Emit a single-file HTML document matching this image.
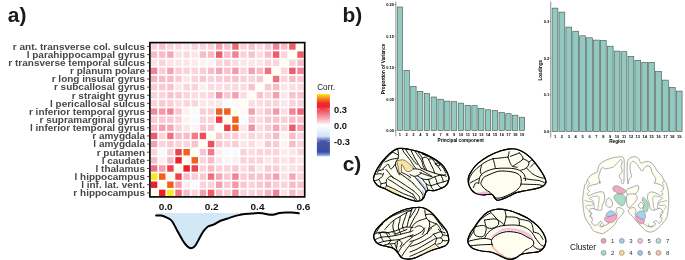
<!DOCTYPE html>
<html><head><meta charset="utf-8"><title>figure</title>
<style>
html,body{margin:0;padding:0;background:#fff}
svg{display:block;will-change:transform;opacity:0.999}
text{font-family:"Liberation Sans",sans-serif}
.rl{font-size:9.22px;font-weight:bold;fill:#474747}
.xl{font-size:9.35px;font-weight:bold;fill:#111}
.pl{font-size:20.9px;font-weight:bold;fill:#1a1a1a}
.ct{font-size:8.2px;fill:#222}
.cl{font-size:9.3px;font-weight:bold;fill:#111}
.tk{font-size:4px;font-weight:bold;fill:#000}
.at{font-size:4.7px;font-weight:bold;fill:#000}
.cg{font-size:8.2px;fill:#111}
.cn{font-size:6.1px;fill:#333}
</style></head><body>
<svg width="685" height="260" viewBox="0 0 685 260">
<rect width="685" height="260" fill="#fff"/>
<rect x="150.90" y="43.25" width="6.43" height="6.43" fill="#fbd3db"/>
<rect x="159.03" y="43.25" width="6.43" height="6.43" fill="#f9c2cd"/>
<rect x="167.17" y="43.25" width="6.43" height="6.43" fill="#fbd3db"/>
<rect x="175.30" y="43.25" width="6.43" height="6.43" fill="#fcd8df"/>
<rect x="183.43" y="43.25" width="6.43" height="6.43" fill="#fde6ea"/>
<rect x="191.56" y="43.25" width="6.43" height="6.43" fill="#fbd3db"/>
<rect x="199.70" y="43.25" width="6.43" height="6.43" fill="#fbd3db"/>
<rect x="207.83" y="43.25" width="6.43" height="6.43" fill="#fbd3db"/>
<rect x="215.96" y="43.25" width="6.43" height="6.43" fill="#f5a0b0"/>
<rect x="224.10" y="43.25" width="6.43" height="6.43" fill="#f9c2cd"/>
<rect x="232.23" y="43.25" width="6.43" height="6.43" fill="#ef6674"/>
<rect x="240.36" y="43.25" width="6.43" height="6.43" fill="#fbd3db"/>
<rect x="248.50" y="43.25" width="6.43" height="6.43" fill="#f9c2cd"/>
<rect x="256.63" y="43.25" width="6.43" height="6.43" fill="#fcd8df"/>
<rect x="264.76" y="43.25" width="6.43" height="6.43" fill="#fac8d2"/>
<rect x="272.90" y="43.25" width="6.43" height="6.43" fill="#f28394"/>
<rect x="281.03" y="43.25" width="6.43" height="6.43" fill="#f8bcc8"/>
<rect x="289.16" y="43.25" width="6.43" height="6.43" fill="#ee5c6a"/>
<rect x="297.29" y="43.25" width="6.43" height="6.43" fill="#fffff0"/>
<rect x="150.90" y="51.38" width="6.43" height="6.43" fill="#f8bcc8"/>
<rect x="159.03" y="51.38" width="6.43" height="6.43" fill="#f8bcc8"/>
<rect x="167.17" y="51.38" width="6.43" height="6.43" fill="#f6a7b6"/>
<rect x="175.30" y="51.38" width="6.43" height="6.43" fill="#fce1e6"/>
<rect x="183.43" y="51.38" width="6.43" height="6.43" fill="#fcd8df"/>
<rect x="191.56" y="51.38" width="6.43" height="6.43" fill="#fde6ea"/>
<rect x="199.70" y="51.38" width="6.43" height="6.43" fill="#f8bcc8"/>
<rect x="207.83" y="51.38" width="6.43" height="6.43" fill="#f8bcc8"/>
<rect x="215.96" y="51.38" width="6.43" height="6.43" fill="#ee5c6a"/>
<rect x="224.10" y="51.38" width="6.43" height="6.43" fill="#f8bcc8"/>
<rect x="232.23" y="51.38" width="6.43" height="6.43" fill="#f28394"/>
<rect x="240.36" y="51.38" width="6.43" height="6.43" fill="#fbd3db"/>
<rect x="248.50" y="51.38" width="6.43" height="6.43" fill="#f9c2cd"/>
<rect x="256.63" y="51.38" width="6.43" height="6.43" fill="#fcdce2"/>
<rect x="264.76" y="51.38" width="6.43" height="6.43" fill="#f8bcc8"/>
<rect x="272.90" y="51.38" width="6.43" height="6.43" fill="#ee5c6a"/>
<rect x="281.03" y="51.38" width="6.43" height="6.43" fill="#fbd3db"/>
<rect x="289.16" y="51.38" width="6.43" height="6.43" fill="#fffff0"/>
<rect x="297.29" y="51.38" width="6.43" height="6.43" fill="#ee5c6a"/>
<rect x="150.90" y="59.52" width="6.43" height="6.43" fill="#fce1e6"/>
<rect x="159.03" y="59.52" width="6.43" height="6.43" fill="#fbd3db"/>
<rect x="167.17" y="59.52" width="6.43" height="6.43" fill="#fce1e6"/>
<rect x="175.30" y="59.52" width="6.43" height="6.43" fill="#fde6ea"/>
<rect x="183.43" y="59.52" width="6.43" height="6.43" fill="#fde6ea"/>
<rect x="191.56" y="59.52" width="6.43" height="6.43" fill="#feeaee"/>
<rect x="199.70" y="59.52" width="6.43" height="6.43" fill="#fef3f4"/>
<rect x="207.83" y="59.52" width="6.43" height="6.43" fill="#fef3f4"/>
<rect x="215.96" y="59.52" width="6.43" height="6.43" fill="#fbd3db"/>
<rect x="224.10" y="59.52" width="6.43" height="6.43" fill="#facdd6"/>
<rect x="232.23" y="59.52" width="6.43" height="6.43" fill="#fcdce2"/>
<rect x="240.36" y="59.52" width="6.43" height="6.43" fill="#fde6ea"/>
<rect x="248.50" y="59.52" width="6.43" height="6.43" fill="#fde6ea"/>
<rect x="256.63" y="59.52" width="6.43" height="6.43" fill="#fde6ea"/>
<rect x="264.76" y="59.52" width="6.43" height="6.43" fill="#fbd3db"/>
<rect x="272.90" y="59.52" width="6.43" height="6.43" fill="#fbd3db"/>
<rect x="281.03" y="59.52" width="6.43" height="6.43" fill="#fffff0"/>
<rect x="289.16" y="59.52" width="6.43" height="6.43" fill="#fbd3db"/>
<rect x="297.29" y="59.52" width="6.43" height="6.43" fill="#f8bcc8"/>
<rect x="150.90" y="67.65" width="6.43" height="6.43" fill="#f28394"/>
<rect x="159.03" y="67.65" width="6.43" height="6.43" fill="#facdd6"/>
<rect x="167.17" y="67.65" width="6.43" height="6.43" fill="#f5a0b0"/>
<rect x="175.30" y="67.65" width="6.43" height="6.43" fill="#facdd6"/>
<rect x="183.43" y="67.65" width="6.43" height="6.43" fill="#fbd3db"/>
<rect x="191.56" y="67.65" width="6.43" height="6.43" fill="#fbd3db"/>
<rect x="199.70" y="67.65" width="6.43" height="6.43" fill="#facdd6"/>
<rect x="207.83" y="67.65" width="6.43" height="6.43" fill="#f8bcc8"/>
<rect x="215.96" y="67.65" width="6.43" height="6.43" fill="#f6a7b6"/>
<rect x="224.10" y="67.65" width="6.43" height="6.43" fill="#f9c2cd"/>
<rect x="232.23" y="67.65" width="6.43" height="6.43" fill="#f499a9"/>
<rect x="240.36" y="67.65" width="6.43" height="6.43" fill="#fbd3db"/>
<rect x="248.50" y="67.65" width="6.43" height="6.43" fill="#f5a0b0"/>
<rect x="256.63" y="67.65" width="6.43" height="6.43" fill="#f8bcc8"/>
<rect x="264.76" y="67.65" width="6.43" height="6.43" fill="#f0707f"/>
<rect x="272.90" y="67.65" width="6.43" height="6.43" fill="#fffff0"/>
<rect x="281.03" y="67.65" width="6.43" height="6.43" fill="#fbd3db"/>
<rect x="289.16" y="67.65" width="6.43" height="6.43" fill="#ee5c6a"/>
<rect x="297.29" y="67.65" width="6.43" height="6.43" fill="#f28394"/>
<rect x="150.90" y="75.78" width="6.43" height="6.43" fill="#f7b5c2"/>
<rect x="159.03" y="75.78" width="6.43" height="6.43" fill="#f8bcc8"/>
<rect x="167.17" y="75.78" width="6.43" height="6.43" fill="#f8bcc8"/>
<rect x="175.30" y="75.78" width="6.43" height="6.43" fill="#facdd6"/>
<rect x="183.43" y="75.78" width="6.43" height="6.43" fill="#fde6ea"/>
<rect x="191.56" y="75.78" width="6.43" height="6.43" fill="#fbd3db"/>
<rect x="199.70" y="75.78" width="6.43" height="6.43" fill="#fac8d2"/>
<rect x="207.83" y="75.78" width="6.43" height="6.43" fill="#fbd3db"/>
<rect x="215.96" y="75.78" width="6.43" height="6.43" fill="#facdd6"/>
<rect x="224.10" y="75.78" width="6.43" height="6.43" fill="#fac8d2"/>
<rect x="232.23" y="75.78" width="6.43" height="6.43" fill="#f9c2cd"/>
<rect x="240.36" y="75.78" width="6.43" height="6.43" fill="#fbd3db"/>
<rect x="248.50" y="75.78" width="6.43" height="6.43" fill="#fbd3db"/>
<rect x="256.63" y="75.78" width="6.43" height="6.43" fill="#fac8d2"/>
<rect x="264.76" y="75.78" width="6.43" height="6.43" fill="#fffff0"/>
<rect x="272.90" y="75.78" width="6.43" height="6.43" fill="#f0707f"/>
<rect x="281.03" y="75.78" width="6.43" height="6.43" fill="#fbd3db"/>
<rect x="289.16" y="75.78" width="6.43" height="6.43" fill="#f8bcc8"/>
<rect x="297.29" y="75.78" width="6.43" height="6.43" fill="#fac8d2"/>
<rect x="150.90" y="83.91" width="6.43" height="6.43" fill="#facdd6"/>
<rect x="159.03" y="83.91" width="6.43" height="6.43" fill="#fac8d2"/>
<rect x="167.17" y="83.91" width="6.43" height="6.43" fill="#f9c2cd"/>
<rect x="175.30" y="83.91" width="6.43" height="6.43" fill="#fde6ea"/>
<rect x="183.43" y="83.91" width="6.43" height="6.43" fill="#fbd3db"/>
<rect x="191.56" y="83.91" width="6.43" height="6.43" fill="#fbd3db"/>
<rect x="199.70" y="83.91" width="6.43" height="6.43" fill="#feeef1"/>
<rect x="207.83" y="83.91" width="6.43" height="6.43" fill="#fcdce2"/>
<rect x="215.96" y="83.91" width="6.43" height="6.43" fill="#fcdce2"/>
<rect x="224.10" y="83.91" width="6.43" height="6.43" fill="#fcdce2"/>
<rect x="232.23" y="83.91" width="6.43" height="6.43" fill="#fcd8df"/>
<rect x="240.36" y="83.91" width="6.43" height="6.43" fill="#fcdce2"/>
<rect x="248.50" y="83.91" width="6.43" height="6.43" fill="#f9c2cd"/>
<rect x="256.63" y="83.91" width="6.43" height="6.43" fill="#fffff0"/>
<rect x="264.76" y="83.91" width="6.43" height="6.43" fill="#fac8d2"/>
<rect x="272.90" y="83.91" width="6.43" height="6.43" fill="#f8bcc8"/>
<rect x="281.03" y="83.91" width="6.43" height="6.43" fill="#fde6ea"/>
<rect x="289.16" y="83.91" width="6.43" height="6.43" fill="#fcdce2"/>
<rect x="297.29" y="83.91" width="6.43" height="6.43" fill="#fcd8df"/>
<rect x="150.90" y="92.05" width="6.43" height="6.43" fill="#fbd3db"/>
<rect x="159.03" y="92.05" width="6.43" height="6.43" fill="#fbd3db"/>
<rect x="167.17" y="92.05" width="6.43" height="6.43" fill="#f9c2cd"/>
<rect x="175.30" y="92.05" width="6.43" height="6.43" fill="#fac8d2"/>
<rect x="183.43" y="92.05" width="6.43" height="6.43" fill="#fbd3db"/>
<rect x="191.56" y="92.05" width="6.43" height="6.43" fill="#fcdce2"/>
<rect x="199.70" y="92.05" width="6.43" height="6.43" fill="#fcdce2"/>
<rect x="207.83" y="92.05" width="6.43" height="6.43" fill="#fbd3db"/>
<rect x="215.96" y="92.05" width="6.43" height="6.43" fill="#f492a2"/>
<rect x="224.10" y="92.05" width="6.43" height="6.43" fill="#fac8d2"/>
<rect x="232.23" y="92.05" width="6.43" height="6.43" fill="#f5a0b0"/>
<rect x="240.36" y="92.05" width="6.43" height="6.43" fill="#fcdce2"/>
<rect x="248.50" y="92.05" width="6.43" height="6.43" fill="#fffff0"/>
<rect x="256.63" y="92.05" width="6.43" height="6.43" fill="#f9c2cd"/>
<rect x="264.76" y="92.05" width="6.43" height="6.43" fill="#fbd3db"/>
<rect x="272.90" y="92.05" width="6.43" height="6.43" fill="#f5a0b0"/>
<rect x="281.03" y="92.05" width="6.43" height="6.43" fill="#fde6ea"/>
<rect x="289.16" y="92.05" width="6.43" height="6.43" fill="#f9c2cd"/>
<rect x="297.29" y="92.05" width="6.43" height="6.43" fill="#f9c2cd"/>
<rect x="150.90" y="100.18" width="6.43" height="6.43" fill="#fbd3db"/>
<rect x="159.03" y="100.18" width="6.43" height="6.43" fill="#fac8d2"/>
<rect x="167.17" y="100.18" width="6.43" height="6.43" fill="#facdd6"/>
<rect x="175.30" y="100.18" width="6.43" height="6.43" fill="#fcdce2"/>
<rect x="183.43" y="100.18" width="6.43" height="6.43" fill="#fbd3db"/>
<rect x="191.56" y="100.18" width="6.43" height="6.43" fill="#fbd3db"/>
<rect x="199.70" y="100.18" width="6.43" height="6.43" fill="#fde6ea"/>
<rect x="207.83" y="100.18" width="6.43" height="6.43" fill="#fde6ea"/>
<rect x="215.96" y="100.18" width="6.43" height="6.43" fill="#fde6ea"/>
<rect x="224.10" y="100.18" width="6.43" height="6.43" fill="#f7fbff"/>
<rect x="232.23" y="100.18" width="6.43" height="6.43" fill="#fff7f8"/>
<rect x="240.36" y="100.18" width="6.43" height="6.43" fill="#fffff0"/>
<rect x="248.50" y="100.18" width="6.43" height="6.43" fill="#fcdce2"/>
<rect x="256.63" y="100.18" width="6.43" height="6.43" fill="#fcdce2"/>
<rect x="264.76" y="100.18" width="6.43" height="6.43" fill="#fbd3db"/>
<rect x="272.90" y="100.18" width="6.43" height="6.43" fill="#fbd3db"/>
<rect x="281.03" y="100.18" width="6.43" height="6.43" fill="#fde6ea"/>
<rect x="289.16" y="100.18" width="6.43" height="6.43" fill="#fbd3db"/>
<rect x="297.29" y="100.18" width="6.43" height="6.43" fill="#fbd3db"/>
<rect x="150.90" y="108.31" width="6.43" height="6.43" fill="#f38a9b"/>
<rect x="159.03" y="108.31" width="6.43" height="6.43" fill="#f499a9"/>
<rect x="167.17" y="108.31" width="6.43" height="6.43" fill="#f28394"/>
<rect x="175.30" y="108.31" width="6.43" height="6.43" fill="#fac8d2"/>
<rect x="183.43" y="108.31" width="6.43" height="6.43" fill="#feeef1"/>
<rect x="191.56" y="108.31" width="6.43" height="6.43" fill="#f7fbff"/>
<rect x="199.70" y="108.31" width="6.43" height="6.43" fill="#facdd6"/>
<rect x="207.83" y="108.31" width="6.43" height="6.43" fill="#facdd6"/>
<rect x="215.96" y="108.31" width="6.43" height="6.43" fill="#f0601e"/>
<rect x="224.10" y="108.31" width="6.43" height="6.43" fill="#f0601e"/>
<rect x="232.23" y="108.31" width="6.43" height="6.43" fill="#fffff0"/>
<rect x="240.36" y="108.31" width="6.43" height="6.43" fill="#fff7f8"/>
<rect x="248.50" y="108.31" width="6.43" height="6.43" fill="#f5a0b0"/>
<rect x="256.63" y="108.31" width="6.43" height="6.43" fill="#fcd8df"/>
<rect x="264.76" y="108.31" width="6.43" height="6.43" fill="#f9c2cd"/>
<rect x="272.90" y="108.31" width="6.43" height="6.43" fill="#f499a9"/>
<rect x="281.03" y="108.31" width="6.43" height="6.43" fill="#fcdce2"/>
<rect x="289.16" y="108.31" width="6.43" height="6.43" fill="#f28394"/>
<rect x="297.29" y="108.31" width="6.43" height="6.43" fill="#ef6674"/>
<rect x="150.90" y="116.45" width="6.43" height="6.43" fill="#facdd6"/>
<rect x="159.03" y="116.45" width="6.43" height="6.43" fill="#fac8d2"/>
<rect x="167.17" y="116.45" width="6.43" height="6.43" fill="#fac8d2"/>
<rect x="175.30" y="116.45" width="6.43" height="6.43" fill="#fbd3db"/>
<rect x="183.43" y="116.45" width="6.43" height="6.43" fill="#fef3f4"/>
<rect x="191.56" y="116.45" width="6.43" height="6.43" fill="#f7fbff"/>
<rect x="199.70" y="116.45" width="6.43" height="6.43" fill="#fbd3db"/>
<rect x="207.83" y="116.45" width="6.43" height="6.43" fill="#fbd3db"/>
<rect x="215.96" y="116.45" width="6.43" height="6.43" fill="#ed3b46"/>
<rect x="224.10" y="116.45" width="6.43" height="6.43" fill="#fffff0"/>
<rect x="232.23" y="116.45" width="6.43" height="6.43" fill="#f0601e"/>
<rect x="240.36" y="116.45" width="6.43" height="6.43" fill="#f7fbff"/>
<rect x="248.50" y="116.45" width="6.43" height="6.43" fill="#fac8d2"/>
<rect x="256.63" y="116.45" width="6.43" height="6.43" fill="#fcdce2"/>
<rect x="264.76" y="116.45" width="6.43" height="6.43" fill="#fac8d2"/>
<rect x="272.90" y="116.45" width="6.43" height="6.43" fill="#f9c2cd"/>
<rect x="281.03" y="116.45" width="6.43" height="6.43" fill="#facdd6"/>
<rect x="289.16" y="116.45" width="6.43" height="6.43" fill="#f8bcc8"/>
<rect x="297.29" y="116.45" width="6.43" height="6.43" fill="#f9c2cd"/>
<rect x="150.90" y="124.58" width="6.43" height="6.43" fill="#f8bcc8"/>
<rect x="159.03" y="124.58" width="6.43" height="6.43" fill="#f5a0b0"/>
<rect x="167.17" y="124.58" width="6.43" height="6.43" fill="#f6a7b6"/>
<rect x="175.30" y="124.58" width="6.43" height="6.43" fill="#fbd3db"/>
<rect x="183.43" y="124.58" width="6.43" height="6.43" fill="#fde6ea"/>
<rect x="191.56" y="124.58" width="6.43" height="6.43" fill="#fef3f4"/>
<rect x="199.70" y="124.58" width="6.43" height="6.43" fill="#fac8d2"/>
<rect x="207.83" y="124.58" width="6.43" height="6.43" fill="#fac8d2"/>
<rect x="215.96" y="124.58" width="6.43" height="6.43" fill="#fffff0"/>
<rect x="224.10" y="124.58" width="6.43" height="6.43" fill="#ed3b46"/>
<rect x="232.23" y="124.58" width="6.43" height="6.43" fill="#f0601e"/>
<rect x="240.36" y="124.58" width="6.43" height="6.43" fill="#fde6ea"/>
<rect x="248.50" y="124.58" width="6.43" height="6.43" fill="#f492a2"/>
<rect x="256.63" y="124.58" width="6.43" height="6.43" fill="#fcdce2"/>
<rect x="264.76" y="124.58" width="6.43" height="6.43" fill="#facdd6"/>
<rect x="272.90" y="124.58" width="6.43" height="6.43" fill="#f6a7b6"/>
<rect x="281.03" y="124.58" width="6.43" height="6.43" fill="#fbd3db"/>
<rect x="289.16" y="124.58" width="6.43" height="6.43" fill="#ee5c6a"/>
<rect x="297.29" y="124.58" width="6.43" height="6.43" fill="#f5a0b0"/>
<rect x="150.90" y="132.71" width="6.43" height="6.43" fill="#ee5c6a"/>
<rect x="159.03" y="132.71" width="6.43" height="6.43" fill="#fbd3db"/>
<rect x="167.17" y="132.71" width="6.43" height="6.43" fill="#f0707f"/>
<rect x="175.30" y="132.71" width="6.43" height="6.43" fill="#f8bcc8"/>
<rect x="183.43" y="132.71" width="6.43" height="6.43" fill="#f8bcc8"/>
<rect x="191.56" y="132.71" width="6.43" height="6.43" fill="#f1798a"/>
<rect x="199.70" y="132.71" width="6.43" height="6.43" fill="#ee4f5c"/>
<rect x="207.83" y="132.71" width="6.43" height="6.43" fill="#fffff0"/>
<rect x="215.96" y="132.71" width="6.43" height="6.43" fill="#fac8d2"/>
<rect x="224.10" y="132.71" width="6.43" height="6.43" fill="#fbd3db"/>
<rect x="232.23" y="132.71" width="6.43" height="6.43" fill="#facdd6"/>
<rect x="240.36" y="132.71" width="6.43" height="6.43" fill="#fde6ea"/>
<rect x="248.50" y="132.71" width="6.43" height="6.43" fill="#fbd3db"/>
<rect x="256.63" y="132.71" width="6.43" height="6.43" fill="#fcdce2"/>
<rect x="264.76" y="132.71" width="6.43" height="6.43" fill="#fbd3db"/>
<rect x="272.90" y="132.71" width="6.43" height="6.43" fill="#f8bcc8"/>
<rect x="281.03" y="132.71" width="6.43" height="6.43" fill="#fef3f4"/>
<rect x="289.16" y="132.71" width="6.43" height="6.43" fill="#f8bcc8"/>
<rect x="297.29" y="132.71" width="6.43" height="6.43" fill="#fbd3db"/>
<rect x="150.90" y="140.85" width="6.43" height="6.43" fill="#f5a0b0"/>
<rect x="159.03" y="140.85" width="6.43" height="6.43" fill="#fbd3db"/>
<rect x="167.17" y="140.85" width="6.43" height="6.43" fill="#fac8d2"/>
<rect x="175.30" y="140.85" width="6.43" height="6.43" fill="#fbd3db"/>
<rect x="183.43" y="140.85" width="6.43" height="6.43" fill="#fbd3db"/>
<rect x="191.56" y="140.85" width="6.43" height="6.43" fill="#f9c2cd"/>
<rect x="199.70" y="140.85" width="6.43" height="6.43" fill="#fffff0"/>
<rect x="207.83" y="140.85" width="6.43" height="6.43" fill="#ee4f5c"/>
<rect x="215.96" y="140.85" width="6.43" height="6.43" fill="#fac8d2"/>
<rect x="224.10" y="140.85" width="6.43" height="6.43" fill="#fbd3db"/>
<rect x="232.23" y="140.85" width="6.43" height="6.43" fill="#facdd6"/>
<rect x="240.36" y="140.85" width="6.43" height="6.43" fill="#fde6ea"/>
<rect x="248.50" y="140.85" width="6.43" height="6.43" fill="#fcdce2"/>
<rect x="256.63" y="140.85" width="6.43" height="6.43" fill="#feeef1"/>
<rect x="264.76" y="140.85" width="6.43" height="6.43" fill="#fac8d2"/>
<rect x="272.90" y="140.85" width="6.43" height="6.43" fill="#facdd6"/>
<rect x="281.03" y="140.85" width="6.43" height="6.43" fill="#fef3f4"/>
<rect x="289.16" y="140.85" width="6.43" height="6.43" fill="#f8bcc8"/>
<rect x="297.29" y="140.85" width="6.43" height="6.43" fill="#fbd3db"/>
<rect x="150.90" y="148.98" width="6.43" height="6.43" fill="#fbd3db"/>
<rect x="159.03" y="148.98" width="6.43" height="6.43" fill="#f7fbff"/>
<rect x="167.17" y="148.98" width="6.43" height="6.43" fill="#facdd6"/>
<rect x="175.30" y="148.98" width="6.43" height="6.43" fill="#ed424e"/>
<rect x="183.43" y="148.98" width="6.43" height="6.43" fill="#f0601e"/>
<rect x="191.56" y="148.98" width="6.43" height="6.43" fill="#fffff0"/>
<rect x="199.70" y="148.98" width="6.43" height="6.43" fill="#f9c2cd"/>
<rect x="207.83" y="148.98" width="6.43" height="6.43" fill="#f1798a"/>
<rect x="215.96" y="148.98" width="6.43" height="6.43" fill="#fef3f4"/>
<rect x="224.10" y="148.98" width="6.43" height="6.43" fill="#f7fbff"/>
<rect x="232.23" y="148.98" width="6.43" height="6.43" fill="#f7fbff"/>
<rect x="240.36" y="148.98" width="6.43" height="6.43" fill="#fbd3db"/>
<rect x="248.50" y="148.98" width="6.43" height="6.43" fill="#fcdce2"/>
<rect x="256.63" y="148.98" width="6.43" height="6.43" fill="#fbd3db"/>
<rect x="264.76" y="148.98" width="6.43" height="6.43" fill="#fbd3db"/>
<rect x="272.90" y="148.98" width="6.43" height="6.43" fill="#fbd3db"/>
<rect x="281.03" y="148.98" width="6.43" height="6.43" fill="#feeaee"/>
<rect x="289.16" y="148.98" width="6.43" height="6.43" fill="#fde6ea"/>
<rect x="297.29" y="148.98" width="6.43" height="6.43" fill="#fbd3db"/>
<rect x="150.90" y="157.11" width="6.43" height="6.43" fill="#f8bcc8"/>
<rect x="159.03" y="157.11" width="6.43" height="6.43" fill="#feeef1"/>
<rect x="167.17" y="157.11" width="6.43" height="6.43" fill="#f8bcc8"/>
<rect x="175.30" y="157.11" width="6.43" height="6.43" fill="#ec2026"/>
<rect x="183.43" y="157.11" width="6.43" height="6.43" fill="#fffff0"/>
<rect x="191.56" y="157.11" width="6.43" height="6.43" fill="#f0601e"/>
<rect x="199.70" y="157.11" width="6.43" height="6.43" fill="#fbd3db"/>
<rect x="207.83" y="157.11" width="6.43" height="6.43" fill="#f8bcc8"/>
<rect x="215.96" y="157.11" width="6.43" height="6.43" fill="#fde6ea"/>
<rect x="224.10" y="157.11" width="6.43" height="6.43" fill="#fef3f4"/>
<rect x="232.23" y="157.11" width="6.43" height="6.43" fill="#feeef1"/>
<rect x="240.36" y="157.11" width="6.43" height="6.43" fill="#fbd3db"/>
<rect x="248.50" y="157.11" width="6.43" height="6.43" fill="#fbd3db"/>
<rect x="256.63" y="157.11" width="6.43" height="6.43" fill="#fbd3db"/>
<rect x="264.76" y="157.11" width="6.43" height="6.43" fill="#fde6ea"/>
<rect x="272.90" y="157.11" width="6.43" height="6.43" fill="#fbd3db"/>
<rect x="281.03" y="157.11" width="6.43" height="6.43" fill="#fde6ea"/>
<rect x="289.16" y="157.11" width="6.43" height="6.43" fill="#fcd8df"/>
<rect x="297.29" y="157.11" width="6.43" height="6.43" fill="#fde6ea"/>
<rect x="150.90" y="165.24" width="6.43" height="6.43" fill="#f0707f"/>
<rect x="159.03" y="165.24" width="6.43" height="6.43" fill="#f5a0b0"/>
<rect x="167.17" y="165.24" width="6.43" height="6.43" fill="#ed424e"/>
<rect x="175.30" y="165.24" width="6.43" height="6.43" fill="#fffff0"/>
<rect x="183.43" y="165.24" width="6.43" height="6.43" fill="#ec2026"/>
<rect x="191.56" y="165.24" width="6.43" height="6.43" fill="#ed424e"/>
<rect x="199.70" y="165.24" width="6.43" height="6.43" fill="#fbd3db"/>
<rect x="207.83" y="165.24" width="6.43" height="6.43" fill="#f8bcc8"/>
<rect x="215.96" y="165.24" width="6.43" height="6.43" fill="#fbd3db"/>
<rect x="224.10" y="165.24" width="6.43" height="6.43" fill="#fbd3db"/>
<rect x="232.23" y="165.24" width="6.43" height="6.43" fill="#fac8d2"/>
<rect x="240.36" y="165.24" width="6.43" height="6.43" fill="#fcdce2"/>
<rect x="248.50" y="165.24" width="6.43" height="6.43" fill="#fac8d2"/>
<rect x="256.63" y="165.24" width="6.43" height="6.43" fill="#fde6ea"/>
<rect x="264.76" y="165.24" width="6.43" height="6.43" fill="#facdd6"/>
<rect x="272.90" y="165.24" width="6.43" height="6.43" fill="#facdd6"/>
<rect x="281.03" y="165.24" width="6.43" height="6.43" fill="#fde6ea"/>
<rect x="289.16" y="165.24" width="6.43" height="6.43" fill="#fce1e6"/>
<rect x="297.29" y="165.24" width="6.43" height="6.43" fill="#fcd8df"/>
<rect x="150.90" y="173.38" width="6.43" height="6.43" fill="#f7e816"/>
<rect x="159.03" y="173.38" width="6.43" height="6.43" fill="#f0601e"/>
<rect x="167.17" y="173.38" width="6.43" height="6.43" fill="#fffff0"/>
<rect x="175.30" y="173.38" width="6.43" height="6.43" fill="#ed424e"/>
<rect x="183.43" y="173.38" width="6.43" height="6.43" fill="#f8bcc8"/>
<rect x="191.56" y="173.38" width="6.43" height="6.43" fill="#facdd6"/>
<rect x="199.70" y="173.38" width="6.43" height="6.43" fill="#fac8d2"/>
<rect x="207.83" y="173.38" width="6.43" height="6.43" fill="#f0707f"/>
<rect x="215.96" y="173.38" width="6.43" height="6.43" fill="#f6a7b6"/>
<rect x="224.10" y="173.38" width="6.43" height="6.43" fill="#fac8d2"/>
<rect x="232.23" y="173.38" width="6.43" height="6.43" fill="#f28394"/>
<rect x="240.36" y="173.38" width="6.43" height="6.43" fill="#facdd6"/>
<rect x="248.50" y="173.38" width="6.43" height="6.43" fill="#f9c2cd"/>
<rect x="256.63" y="173.38" width="6.43" height="6.43" fill="#f9c2cd"/>
<rect x="264.76" y="173.38" width="6.43" height="6.43" fill="#f8bcc8"/>
<rect x="272.90" y="173.38" width="6.43" height="6.43" fill="#f5a0b0"/>
<rect x="281.03" y="173.38" width="6.43" height="6.43" fill="#fce1e6"/>
<rect x="289.16" y="173.38" width="6.43" height="6.43" fill="#f6a7b6"/>
<rect x="297.29" y="173.38" width="6.43" height="6.43" fill="#fbd3db"/>
<rect x="150.90" y="181.51" width="6.43" height="6.43" fill="#ec2026"/>
<rect x="159.03" y="181.51" width="6.43" height="6.43" fill="#fffff0"/>
<rect x="167.17" y="181.51" width="6.43" height="6.43" fill="#f0601e"/>
<rect x="175.30" y="181.51" width="6.43" height="6.43" fill="#f5a0b0"/>
<rect x="183.43" y="181.51" width="6.43" height="6.43" fill="#feeef1"/>
<rect x="191.56" y="181.51" width="6.43" height="6.43" fill="#f7fbff"/>
<rect x="199.70" y="181.51" width="6.43" height="6.43" fill="#fbd3db"/>
<rect x="207.83" y="181.51" width="6.43" height="6.43" fill="#fbd3db"/>
<rect x="215.96" y="181.51" width="6.43" height="6.43" fill="#f5a0b0"/>
<rect x="224.10" y="181.51" width="6.43" height="6.43" fill="#fac8d2"/>
<rect x="232.23" y="181.51" width="6.43" height="6.43" fill="#f499a9"/>
<rect x="240.36" y="181.51" width="6.43" height="6.43" fill="#fac8d2"/>
<rect x="248.50" y="181.51" width="6.43" height="6.43" fill="#fbd3db"/>
<rect x="256.63" y="181.51" width="6.43" height="6.43" fill="#fac8d2"/>
<rect x="264.76" y="181.51" width="6.43" height="6.43" fill="#f8bcc8"/>
<rect x="272.90" y="181.51" width="6.43" height="6.43" fill="#facdd6"/>
<rect x="281.03" y="181.51" width="6.43" height="6.43" fill="#fbd3db"/>
<rect x="289.16" y="181.51" width="6.43" height="6.43" fill="#f8bcc8"/>
<rect x="297.29" y="181.51" width="6.43" height="6.43" fill="#f9c2cd"/>
<rect x="150.90" y="189.64" width="6.43" height="6.43" fill="#fffff0"/>
<rect x="159.03" y="189.64" width="6.43" height="6.43" fill="#ec2026"/>
<rect x="167.17" y="189.64" width="6.43" height="6.43" fill="#f7e816"/>
<rect x="175.30" y="189.64" width="6.43" height="6.43" fill="#f0707f"/>
<rect x="183.43" y="189.64" width="6.43" height="6.43" fill="#f8bcc8"/>
<rect x="191.56" y="189.64" width="6.43" height="6.43" fill="#fbd3db"/>
<rect x="199.70" y="189.64" width="6.43" height="6.43" fill="#f5a0b0"/>
<rect x="207.83" y="189.64" width="6.43" height="6.43" fill="#ee5c6a"/>
<rect x="215.96" y="189.64" width="6.43" height="6.43" fill="#f8bcc8"/>
<rect x="224.10" y="189.64" width="6.43" height="6.43" fill="#facdd6"/>
<rect x="232.23" y="189.64" width="6.43" height="6.43" fill="#f38a9b"/>
<rect x="240.36" y="189.64" width="6.43" height="6.43" fill="#fbd3db"/>
<rect x="248.50" y="189.64" width="6.43" height="6.43" fill="#fbd3db"/>
<rect x="256.63" y="189.64" width="6.43" height="6.43" fill="#facdd6"/>
<rect x="264.76" y="189.64" width="6.43" height="6.43" fill="#f7b5c2"/>
<rect x="272.90" y="189.64" width="6.43" height="6.43" fill="#f28394"/>
<rect x="281.03" y="189.64" width="6.43" height="6.43" fill="#fce1e6"/>
<rect x="289.16" y="189.64" width="6.43" height="6.43" fill="#f8bcc8"/>
<rect x="297.29" y="189.64" width="6.43" height="6.43" fill="#fbd3db"/>
<rect x="149.9" y="42.6" width="154.8" height="154.3" fill="none" stroke="#000" stroke-width="1.65"/>
<path d="M147.1 46.47H149.1" stroke="#444" stroke-width="1"/>
<text transform="translate(145 49.82) scale(1.085 1)" text-anchor="end" class="rl">r ant. transverse col. sulcus</text>
<path d="M147.1 54.60H149.1" stroke="#444" stroke-width="1"/>
<text transform="translate(145 57.95) scale(1.085 1)" text-anchor="end" class="rl">l parahippocampal gyrus</text>
<path d="M147.1 62.73H149.1" stroke="#444" stroke-width="1"/>
<text transform="translate(145 66.08) scale(1.085 1)" text-anchor="end" class="rl">r transverse temporal sulcus</text>
<path d="M147.1 70.87H149.1" stroke="#444" stroke-width="1"/>
<text transform="translate(145 74.22) scale(1.085 1)" text-anchor="end" class="rl">r planum polare</text>
<path d="M147.1 79.00H149.1" stroke="#444" stroke-width="1"/>
<text transform="translate(145 82.35) scale(1.085 1)" text-anchor="end" class="rl">r long insular gyrus</text>
<path d="M147.1 87.13H149.1" stroke="#444" stroke-width="1"/>
<text transform="translate(145 90.48) scale(1.085 1)" text-anchor="end" class="rl">r subcallosal gyrus</text>
<path d="M147.1 95.26H149.1" stroke="#444" stroke-width="1"/>
<text transform="translate(145 98.61) scale(1.085 1)" text-anchor="end" class="rl">r straight gyrus</text>
<path d="M147.1 103.40H149.1" stroke="#444" stroke-width="1"/>
<text transform="translate(145 106.75) scale(1.085 1)" text-anchor="end" class="rl">l pericallosal sulcus</text>
<path d="M147.1 111.53H149.1" stroke="#444" stroke-width="1"/>
<text transform="translate(145 114.88) scale(1.085 1)" text-anchor="end" class="rl">r inferior temporal gyrus</text>
<path d="M147.1 119.66H149.1" stroke="#444" stroke-width="1"/>
<text transform="translate(145 123.01) scale(1.085 1)" text-anchor="end" class="rl">r supramarginal gyrus</text>
<path d="M147.1 127.80H149.1" stroke="#444" stroke-width="1"/>
<text transform="translate(145 131.15) scale(1.085 1)" text-anchor="end" class="rl">l inferior temporal gyrus</text>
<path d="M147.1 135.93H149.1" stroke="#444" stroke-width="1"/>
<text transform="translate(145 139.28) scale(1.085 1)" text-anchor="end" class="rl">r amygdala</text>
<path d="M147.1 144.06H149.1" stroke="#444" stroke-width="1"/>
<text transform="translate(145 147.41) scale(1.085 1)" text-anchor="end" class="rl">l amygdala</text>
<path d="M147.1 152.20H149.1" stroke="#444" stroke-width="1"/>
<text transform="translate(145 155.55) scale(1.085 1)" text-anchor="end" class="rl">r putamen</text>
<path d="M147.1 160.33H149.1" stroke="#444" stroke-width="1"/>
<text transform="translate(145 163.68) scale(1.085 1)" text-anchor="end" class="rl">l caudate</text>
<path d="M147.1 168.46H149.1" stroke="#444" stroke-width="1"/>
<text transform="translate(145 171.81) scale(1.085 1)" text-anchor="end" class="rl">l thalamus</text>
<path d="M147.1 176.59H149.1" stroke="#444" stroke-width="1"/>
<text transform="translate(145 179.94) scale(1.085 1)" text-anchor="end" class="rl">l hippocampus</text>
<path d="M147.1 184.73H149.1" stroke="#444" stroke-width="1"/>
<text transform="translate(145 188.08) scale(1.085 1)" text-anchor="end" class="rl">l inf. lat. vent.</text>
<path d="M147.1 192.86H149.1" stroke="#444" stroke-width="1"/>
<text transform="translate(145 196.21) scale(1.085 1)" text-anchor="end" class="rl">r hippocampus</text>
<text transform="translate(165.7 209.8) scale(1.07 1)" text-anchor="middle" class="xl">0.0</text>
<text transform="translate(211.6 209.8) scale(1.07 1)" text-anchor="middle" class="xl">0.2</text>
<text transform="translate(257.5 209.8) scale(1.07 1)" text-anchor="middle" class="xl">0.4</text>
<text transform="translate(303.4 209.8) scale(1.07 1)" text-anchor="middle" class="xl">0.6</text>
<path d="M156.1 215.5C156.9 215.5 159.3 215.2 161.0 215.5C162.7 215.8 164.6 216.4 166.4 217.3C168.2 218.2 170.1 218.7 171.9 221.0C173.7 223.3 175.6 227.6 177.4 230.9C179.2 234.2 181.3 238.1 182.9 240.7C184.5 243.2 185.8 244.9 187.2 246.2C188.5 247.4 189.7 248.2 191.0 248.2C192.3 248.2 193.5 247.8 194.9 246.2C196.3 244.6 197.8 241.1 199.3 238.5C200.8 235.9 202.2 232.9 203.7 230.9C205.1 228.9 206.4 227.5 208.0 226.5C209.6 225.5 211.5 225.6 213.5 224.7C215.5 223.8 217.9 222.0 220.1 221.0C222.3 220.0 224.6 219.5 226.7 218.8C228.8 218.1 230.2 217.6 232.4 216.9C234.6 216.2 237.8 215.4 239.9 214.9C242.0 214.4 242.8 214.1 244.9 213.9C247.0 213.7 250.0 213.7 252.3 213.5C254.6 213.3 256.6 212.9 258.5 212.9C260.4 212.9 261.6 213.2 263.5 213.5C265.4 213.8 267.8 214.5 269.7 214.7C271.6 214.8 273.0 214.7 274.6 214.4C276.2 214.1 277.7 213.4 279.6 213.1C281.5 212.8 283.7 212.6 285.8 212.5C287.9 212.4 289.8 212.5 292.0 212.6C294.2 212.7 297.7 213.2 298.8 213.3L298.8 212.9L156.1 212.9Z" fill="#d3e8f7"/>
<path d="M156.1 215.5C156.9 215.5 159.3 215.2 161.0 215.5C162.7 215.8 164.6 216.4 166.4 217.3C168.2 218.2 170.1 218.7 171.9 221.0C173.7 223.3 175.6 227.6 177.4 230.9C179.2 234.2 181.3 238.1 182.9 240.7C184.5 243.2 185.8 244.9 187.2 246.2C188.5 247.4 189.7 248.2 191.0 248.2C192.3 248.2 193.5 247.8 194.9 246.2C196.3 244.6 197.8 241.1 199.3 238.5C200.8 235.9 202.2 232.9 203.7 230.9C205.1 228.9 206.4 227.5 208.0 226.5C209.6 225.5 211.5 225.6 213.5 224.7C215.5 223.8 217.9 222.0 220.1 221.0C222.3 220.0 224.6 219.5 226.7 218.8C228.8 218.1 230.2 217.6 232.4 216.9C234.6 216.2 237.8 215.4 239.9 214.9C242.0 214.4 242.8 214.1 244.9 213.9C247.0 213.7 250.0 213.7 252.3 213.5C254.6 213.3 256.6 212.9 258.5 212.9C260.4 212.9 261.6 213.2 263.5 213.5C265.4 213.8 267.8 214.5 269.7 214.7C271.6 214.8 273.0 214.7 274.6 214.4C276.2 214.1 277.7 213.4 279.6 213.1C281.5 212.8 283.7 212.6 285.8 212.5C287.9 212.4 289.8 212.5 292.0 212.6C294.2 212.7 297.7 213.2 298.8 213.3" fill="none" stroke="#000" stroke-width="2" stroke-linecap="round" stroke-linejoin="round"/>
<defs><linearGradient id="cb" x1="0" y1="0" x2="0" y2="1">
<stop offset="0.000" stop-color="#ffe812"/>
<stop offset="0.070" stop-color="#f58a1e"/>
<stop offset="0.150" stop-color="#ee2a24"/>
<stop offset="0.200" stop-color="#ee2430"/>
<stop offset="0.245" stop-color="#ee4552"/>
<stop offset="0.380" stop-color="#f6a0ac"/>
<stop offset="0.500" stop-color="#ffffff"/>
<stop offset="0.600" stop-color="#e6f1fb"/>
<stop offset="0.680" stop-color="#cfe2f6"/>
<stop offset="0.720" stop-color="#8a98cf"/>
<stop offset="0.760" stop-color="#4557a8"/>
<stop offset="0.930" stop-color="#3a4da4"/>
<stop offset="0.970" stop-color="#6f8fd0"/>
<stop offset="1.000" stop-color="#a9d2f3"/>
</linearGradient></defs>
<rect x="316.9" y="94" width="13" height="62.3" fill="url(#cb)"/>
<path d="M316.9 109.1h2.6M327.3 109.1h2.6" stroke="#fff" stroke-width="0.5" opacity="0.8"/>
<path d="M316.9 125.1h2.6M327.3 125.1h2.6" stroke="#fff" stroke-width="0.5" opacity="0.8"/>
<path d="M316.9 141.3h2.6M327.3 141.3h2.6" stroke="#fff" stroke-width="0.5" opacity="0.8"/>
<text x="317.2" y="90" class="ct">Corr.</text>
<text x="334" y="112.6" class="cl">0.3</text>
<text x="334" y="128.6" class="cl">0.0</text>
<text x="334" y="145.0" class="cl">-0.3</text>
<text x="7.8" y="22.2" class="pl">a)</text>
<text x="342.4" y="22.2" class="pl">b)</text>
<text x="342.7" y="170.5" class="pl">c)</text>
<rect x="397.20" y="7.00" width="5.35" height="123.40" fill="#92c9c0" stroke="#45524f" stroke-width="0.6"/>
<rect x="403.99" y="70.30" width="5.35" height="60.10" fill="#92c9c0" stroke="#45524f" stroke-width="0.6"/>
<rect x="410.77" y="86.30" width="5.35" height="44.10" fill="#92c9c0" stroke="#45524f" stroke-width="0.6"/>
<rect x="417.56" y="91.40" width="5.35" height="39.00" fill="#92c9c0" stroke="#45524f" stroke-width="0.6"/>
<rect x="424.34" y="93.50" width="5.35" height="36.90" fill="#92c9c0" stroke="#45524f" stroke-width="0.6"/>
<rect x="431.12" y="97.00" width="5.35" height="33.40" fill="#92c9c0" stroke="#45524f" stroke-width="0.6"/>
<rect x="437.91" y="99.20" width="5.35" height="31.20" fill="#92c9c0" stroke="#45524f" stroke-width="0.6"/>
<rect x="444.69" y="101.10" width="5.35" height="29.30" fill="#92c9c0" stroke="#45524f" stroke-width="0.6"/>
<rect x="451.48" y="101.70" width="5.35" height="28.70" fill="#92c9c0" stroke="#45524f" stroke-width="0.6"/>
<rect x="458.26" y="103.10" width="5.35" height="27.30" fill="#92c9c0" stroke="#45524f" stroke-width="0.6"/>
<rect x="465.05" y="105.40" width="5.35" height="25.00" fill="#92c9c0" stroke="#45524f" stroke-width="0.6"/>
<rect x="471.83" y="105.70" width="5.35" height="24.70" fill="#92c9c0" stroke="#45524f" stroke-width="0.6"/>
<rect x="478.62" y="108.30" width="5.35" height="22.10" fill="#92c9c0" stroke="#45524f" stroke-width="0.6"/>
<rect x="485.40" y="109.80" width="5.35" height="20.60" fill="#92c9c0" stroke="#45524f" stroke-width="0.6"/>
<rect x="492.19" y="110.50" width="5.35" height="19.90" fill="#92c9c0" stroke="#45524f" stroke-width="0.6"/>
<rect x="498.98" y="112.50" width="5.35" height="17.90" fill="#92c9c0" stroke="#45524f" stroke-width="0.6"/>
<rect x="505.76" y="113.70" width="5.35" height="16.70" fill="#92c9c0" stroke="#45524f" stroke-width="0.6"/>
<rect x="512.54" y="115.20" width="5.35" height="15.20" fill="#92c9c0" stroke="#45524f" stroke-width="0.6"/>
<rect x="519.33" y="117.20" width="5.35" height="13.20" fill="#92c9c0" stroke="#45524f" stroke-width="0.6"/>
<path d="M395.8 1.5V136.3" stroke="#a0a0a0" stroke-width="1.15"/>
<text x="399.90" y="136" text-anchor="middle" class="tk">1</text>
<text x="406.69" y="136" text-anchor="middle" class="tk">2</text>
<text x="413.47" y="136" text-anchor="middle" class="tk">3</text>
<text x="420.25" y="136" text-anchor="middle" class="tk">4</text>
<text x="427.04" y="136" text-anchor="middle" class="tk">5</text>
<text x="433.82" y="136" text-anchor="middle" class="tk">6</text>
<text x="440.61" y="136" text-anchor="middle" class="tk">7</text>
<text x="447.39" y="136" text-anchor="middle" class="tk">8</text>
<text x="454.18" y="136" text-anchor="middle" class="tk">9</text>
<text x="460.96" y="136" text-anchor="middle" class="tk">10</text>
<text x="467.75" y="136" text-anchor="middle" class="tk">11</text>
<text x="474.53" y="136" text-anchor="middle" class="tk">12</text>
<text x="481.32" y="136" text-anchor="middle" class="tk">13</text>
<text x="488.10" y="136" text-anchor="middle" class="tk">14</text>
<text x="494.89" y="136" text-anchor="middle" class="tk">15</text>
<text x="501.68" y="136" text-anchor="middle" class="tk">16</text>
<text x="508.46" y="136" text-anchor="middle" class="tk">17</text>
<text x="515.25" y="136" text-anchor="middle" class="tk">18</text>
<text x="522.03" y="136" text-anchor="middle" class="tk">19</text>
<text x="394" y="6.40" text-anchor="end" class="tk">0.20</text>
<path d="M394.6 4.60H395.8" stroke="#333" stroke-width="0.5"/>
<text x="394" y="37.90" text-anchor="end" class="tk">0.15</text>
<path d="M394.6 36.10H395.8" stroke="#333" stroke-width="0.5"/>
<text x="394" y="69.35" text-anchor="end" class="tk">0.10</text>
<path d="M394.6 67.55H395.8" stroke="#333" stroke-width="0.5"/>
<text x="394" y="100.80" text-anchor="end" class="tk">0.05</text>
<path d="M394.6 99.00H395.8" stroke="#333" stroke-width="0.5"/>
<text x="394" y="132.30" text-anchor="end" class="tk">0.00</text>
<path d="M394.6 130.50H395.8" stroke="#333" stroke-width="0.5"/>
<text x="460.7" y="141.7" text-anchor="middle" class="at">Principal component</text>
<text transform="translate(384.6 69) rotate(-90)" text-anchor="middle" class="at">Proportion of Variance</text>
<rect x="552.10" y="8.10" width="5.80" height="123.40" fill="#92c9c0" stroke="#45524f" stroke-width="0.6"/>
<rect x="559.00" y="12.10" width="5.80" height="119.40" fill="#92c9c0" stroke="#45524f" stroke-width="0.6"/>
<rect x="565.90" y="27.10" width="5.80" height="104.40" fill="#92c9c0" stroke="#45524f" stroke-width="0.6"/>
<rect x="572.80" y="31.20" width="5.80" height="100.30" fill="#92c9c0" stroke="#45524f" stroke-width="0.6"/>
<rect x="579.70" y="35.80" width="5.80" height="95.70" fill="#92c9c0" stroke="#45524f" stroke-width="0.6"/>
<rect x="586.60" y="37.80" width="5.80" height="93.70" fill="#92c9c0" stroke="#45524f" stroke-width="0.6"/>
<rect x="593.50" y="40.10" width="5.80" height="91.40" fill="#92c9c0" stroke="#45524f" stroke-width="0.6"/>
<rect x="600.40" y="40.40" width="5.80" height="91.10" fill="#92c9c0" stroke="#45524f" stroke-width="0.6"/>
<rect x="607.30" y="46.20" width="5.80" height="85.30" fill="#92c9c0" stroke="#45524f" stroke-width="0.6"/>
<rect x="614.20" y="51.10" width="5.80" height="80.40" fill="#92c9c0" stroke="#45524f" stroke-width="0.6"/>
<rect x="621.10" y="51.70" width="5.80" height="79.80" fill="#92c9c0" stroke="#45524f" stroke-width="0.6"/>
<rect x="628.00" y="56.30" width="5.80" height="75.20" fill="#92c9c0" stroke="#45524f" stroke-width="0.6"/>
<rect x="634.90" y="60.30" width="5.80" height="71.20" fill="#92c9c0" stroke="#45524f" stroke-width="0.6"/>
<rect x="641.80" y="62.30" width="5.80" height="69.20" fill="#92c9c0" stroke="#45524f" stroke-width="0.6"/>
<rect x="648.70" y="62.30" width="5.80" height="69.20" fill="#92c9c0" stroke="#45524f" stroke-width="0.6"/>
<rect x="655.60" y="71.40" width="5.80" height="60.10" fill="#92c9c0" stroke="#45524f" stroke-width="0.6"/>
<rect x="662.50" y="80.10" width="5.80" height="51.40" fill="#92c9c0" stroke="#45524f" stroke-width="0.6"/>
<rect x="669.40" y="87.30" width="5.80" height="44.20" fill="#92c9c0" stroke="#45524f" stroke-width="0.6"/>
<rect x="676.30" y="91.10" width="5.80" height="40.40" fill="#92c9c0" stroke="#45524f" stroke-width="0.6"/>
<path d="M550.7 1.5V137.5" stroke="#a0a0a0" stroke-width="1.15"/>
<text x="555.00" y="137.5" text-anchor="middle" class="tk">1</text>
<text x="561.90" y="137.5" text-anchor="middle" class="tk">2</text>
<text x="568.80" y="137.5" text-anchor="middle" class="tk">3</text>
<text x="575.70" y="137.5" text-anchor="middle" class="tk">4</text>
<text x="582.60" y="137.5" text-anchor="middle" class="tk">5</text>
<text x="589.50" y="137.5" text-anchor="middle" class="tk">6</text>
<text x="596.40" y="137.5" text-anchor="middle" class="tk">7</text>
<text x="603.30" y="137.5" text-anchor="middle" class="tk">8</text>
<text x="610.20" y="137.5" text-anchor="middle" class="tk">9</text>
<text x="617.10" y="137.5" text-anchor="middle" class="tk">10</text>
<text x="624.00" y="137.5" text-anchor="middle" class="tk">11</text>
<text x="630.90" y="137.5" text-anchor="middle" class="tk">12</text>
<text x="637.80" y="137.5" text-anchor="middle" class="tk">13</text>
<text x="644.70" y="137.5" text-anchor="middle" class="tk">14</text>
<text x="651.60" y="137.5" text-anchor="middle" class="tk">15</text>
<text x="658.50" y="137.5" text-anchor="middle" class="tk">16</text>
<text x="665.40" y="137.5" text-anchor="middle" class="tk">17</text>
<text x="672.30" y="137.5" text-anchor="middle" class="tk">18</text>
<text x="679.20" y="137.5" text-anchor="middle" class="tk">19</text>
<text x="549.2" y="22.80" text-anchor="end" class="tk">0.3</text>
<path d="M549.6 21.40H550.7" stroke="#333" stroke-width="0.5"/>
<text x="549.2" y="59.50" text-anchor="end" class="tk">0.2</text>
<path d="M549.6 58.10H550.7" stroke="#333" stroke-width="0.5"/>
<text x="549.2" y="96.20" text-anchor="end" class="tk">0.1</text>
<path d="M549.6 94.80H550.7" stroke="#333" stroke-width="0.5"/>
<text x="549.2" y="132.90" text-anchor="end" class="tk">0.0</text>
<path d="M549.6 131.50H550.7" stroke="#333" stroke-width="0.5"/>
<text x="617.1" y="143.3" text-anchor="middle" class="at">Region</text>
<text transform="translate(542.2 70.2) rotate(-90)" text-anchor="middle" class="at">Loadings</text>
<text x="570" y="249.9" class="cg">Cluster</text>
<circle cx="603.6" cy="240.9" r="2.45" fill="#f59cb6" stroke="#777" stroke-width="0.6"/>
<text x="612.8" y="243.1" text-anchor="middle" class="cn">1</text>
<circle cx="621.8" cy="240.9" r="2.45" fill="#9fcdf2" stroke="#777" stroke-width="0.6"/>
<text x="631.0" y="243.1" text-anchor="middle" class="cn">3</text>
<circle cx="640.1" cy="240.9" r="2.45" fill="#f8c2dc" stroke="#777" stroke-width="0.6"/>
<text x="649.3" y="243.1" text-anchor="middle" class="cn">5</text>
<circle cx="658.4" cy="240.9" r="2.45" fill="#b4ddd0" stroke="#777" stroke-width="0.6"/>
<text x="667.6" y="243.1" text-anchor="middle" class="cn">7</text>
<circle cx="603.6" cy="252.9" r="2.45" fill="#a8dcc6" stroke="#777" stroke-width="0.6"/>
<text x="612.8" y="255.1" text-anchor="middle" class="cn">2</text>
<circle cx="621.8" cy="252.9" r="2.45" fill="#fade8e" stroke="#777" stroke-width="0.6"/>
<text x="631.0" y="255.1" text-anchor="middle" class="cn">4</text>
<circle cx="640.1" cy="252.9" r="2.45" fill="#a2c2ef" stroke="#777" stroke-width="0.6"/>
<text x="649.3" y="255.1" text-anchor="middle" class="cn">6</text>
<circle cx="658.4" cy="252.9" r="2.45" fill="#f8c4a2" stroke="#777" stroke-width="0.6"/>
<text x="667.6" y="255.1" text-anchor="middle" class="cn">8</text>
<path d="M373.7 177.0C374.0 175.8 374.6 174.1 375.6 172.0C376.6 169.9 378.1 167.1 379.9 164.6C381.6 162.1 384.0 159.4 386.1 157.2C388.2 155.0 390.1 153.1 392.3 151.6C394.5 150.1 396.1 148.7 399.2 148.4C402.3 148.1 406.9 148.9 410.9 149.7C414.9 150.5 419.4 151.8 423.3 153.4C427.2 155.0 431.4 157.1 434.5 159.0C437.6 160.9 440.0 162.6 442.0 164.6C444.0 166.6 445.2 168.7 446.3 170.8C447.4 172.9 448.4 175.5 448.8 177.0C449.2 178.5 449.1 178.6 448.8 179.8C448.5 181.0 448.0 183.0 446.9 184.4C445.8 185.8 444.1 187.1 442.0 188.1C439.9 189.1 436.8 190.2 434.5 190.6C432.2 191.0 429.5 190.0 428.0 190.4C426.5 190.8 426.1 191.9 425.4 193.1C424.7 194.3 424.8 196.2 424.0 197.4C423.2 198.6 422.2 199.9 420.9 200.5C419.5 201.1 417.8 201.4 415.9 201.2C414.0 201.0 412.2 200.3 409.7 199.5C407.2 198.7 403.9 197.4 401.0 196.2C398.1 195.0 395.0 193.8 392.3 192.5C389.6 191.2 387.2 189.7 384.9 188.7C382.6 187.7 380.3 187.3 378.7 186.3C377.1 185.3 375.9 183.6 375.0 182.5C374.1 181.4 373.8 180.4 373.6 179.5C373.4 178.6 373.4 178.2 373.7 177.0Z" fill="#fefef0" stroke="#000" stroke-width="1.15" stroke-linejoin="round"/>
<path d="M397.5 160.6C398.6 160.2 401.9 159.7 403.5 159.9C405.1 160.2 405.8 161.0 407.2 162.1C408.6 163.2 411.2 165.3 412.2 166.5C413.2 167.7 413.8 168.2 413.4 169.0C413.0 169.8 410.9 171.1 409.7 171.4C408.5 171.7 407.1 171.7 406.0 170.8C404.9 169.9 403.6 166.9 402.9 165.9C402.2 164.9 401.9 163.7 401.6 164.8C401.3 165.9 401.7 171.4 401.3 172.7C400.9 174.0 399.8 173.8 399.2 172.7C398.6 171.6 398.3 167.7 397.9 165.9C397.5 164.1 397.1 163.0 397.0 162.1C396.9 161.2 396.4 161.0 397.5 160.6Z" fill="#fbe3a6" stroke="#000" stroke-width="0.5" stroke-linejoin="round"/>
<path d="M386.1 186.6C387.2 186.8 390.2 188.4 392.3 189.4C394.4 190.3 397.8 191.7 398.8 192.5C399.7 193.2 399.2 194.0 398.0 193.8C396.9 193.7 393.7 192.3 391.7 191.4C389.7 190.4 386.8 189.0 385.9 188.3C385.0 187.5 385.1 186.5 386.1 186.6Z" fill="#fbe3a6" stroke="none" stroke-width="0" stroke-linejoin="round"/>
<path d="M416.8 179.4C415.7 177.7 417.2 177.5 418.6 178.8C420.1 180.0 424.1 185.0 425.4 186.8C426.7 188.5 426.7 188.9 426.6 189.2C426.5 189.5 426.4 190.3 424.8 188.6C423.1 187.0 417.8 181.0 416.8 179.4Z" fill="#a9c6ea" stroke="none" stroke-width="0" stroke-linejoin="round"/>
<path d="M422.1 190.5C422.0 189.7 422.6 189.5 423.1 190.2C423.5 190.9 424.4 194.0 424.5 194.8C424.6 195.6 424.0 195.6 423.5 194.9C423.1 194.2 422.2 191.3 422.1 190.5Z" fill="#a9c6ea" stroke="none" stroke-width="0" stroke-linejoin="round"/>
<path d="M408.2 177.2C408.1 176.6 409.0 176.5 409.5 177.0C409.9 177.5 410.9 179.6 410.9 180.2C411.0 180.8 410.4 180.9 410.0 180.4C409.5 179.9 408.3 177.8 408.2 177.2Z" fill="#b4ddd0" stroke="none" stroke-width="0" stroke-linejoin="round"/>
<clipPath id="bc1"><path d="M373.7 177.0C374.0 175.8 374.6 174.1 375.6 172.0C376.6 169.9 378.1 167.1 379.9 164.6C381.6 162.1 384.0 159.4 386.1 157.2C388.2 155.0 390.1 153.1 392.3 151.6C394.5 150.1 396.1 148.7 399.2 148.4C402.3 148.1 406.9 148.9 410.9 149.7C414.9 150.5 419.4 151.8 423.3 153.4C427.2 155.0 431.4 157.1 434.5 159.0C437.6 160.9 440.0 162.6 442.0 164.6C444.0 166.6 445.2 168.7 446.3 170.8C447.4 172.9 448.4 175.5 448.8 177.0C449.2 178.5 449.1 178.6 448.8 179.8C448.5 181.0 448.0 183.0 446.9 184.4C445.8 185.8 444.1 187.1 442.0 188.1C439.9 189.1 436.8 190.2 434.5 190.6C432.2 191.0 429.5 190.0 428.0 190.4C426.5 190.8 426.1 191.9 425.4 193.1C424.7 194.3 424.8 196.2 424.0 197.4C423.2 198.6 422.2 199.9 420.9 200.5C419.5 201.1 417.8 201.4 415.9 201.2C414.0 201.0 412.2 200.3 409.7 199.5C407.2 198.7 403.9 197.4 401.0 196.2C398.1 195.0 395.0 193.8 392.3 192.5C389.6 191.2 387.2 189.7 384.9 188.7C382.6 187.7 380.3 187.3 378.7 186.3C377.1 185.3 375.9 183.6 375.0 182.5C374.1 181.4 373.8 180.4 373.6 179.5C373.4 178.6 373.4 178.2 373.7 177.0Z"/></clipPath>
<path d="M377.4 172.5C378.2 170.9 380.5 166.0 382.3 163.2C384.2 160.5 386.7 157.7 388.5 155.9C390.2 154.0 392.1 152.8 392.8 152.2M392.8 152.2C393.6 152.6 396.9 154.2 397.7 154.6M397.7 149.1C397.9 150.0 398.5 153.1 398.6 154.6C398.6 156.2 398.2 157.7 398.1 158.3M398.1 158.3C397.8 158.7 396.9 159.8 396.5 160.8C396.0 161.8 395.2 163.2 395.2 164.5C395.2 165.7 396.1 166.9 396.5 168.2C396.9 169.4 397.2 170.7 397.7 171.9C398.2 173.0 399.2 174.4 399.6 174.9M382.9 168.8C383.5 168.2 385.7 165.8 386.6 165.1C387.5 164.4 388.0 164.1 388.5 164.5C389.0 164.9 389.2 166.8 389.7 167.6C390.2 168.3 390.7 169.2 391.6 168.8C392.4 168.4 393.9 165.8 394.6 165.1C395.3 164.4 395.7 164.6 395.9 164.5M384.8 162.0C385.8 161.6 388.8 160.2 390.9 159.5C393.0 158.9 396.3 158.5 397.3 158.3M375.5 174.3C376.3 174.2 378.7 173.7 379.9 173.7C381.0 173.7 381.9 174.2 382.3 174.3M379.2 170.6C380.0 170.4 382.8 169.6 383.5 169.4M386.0 169.4C386.4 169.9 387.5 171.3 388.5 172.5C389.4 173.6 390.7 175.4 391.6 176.2C392.4 177.0 393.1 177.2 393.4 177.4M402.3 148.7C402.5 149.3 403.1 151.0 403.9 152.2C404.6 153.3 405.8 154.4 406.9 155.9C408.1 157.3 409.5 159.1 410.6 160.8C411.8 162.4 412.9 164.5 413.7 165.7C414.6 166.9 415.5 167.8 415.8 168.2M405.5 149.1C405.9 149.8 407.1 151.8 408.2 153.4C409.2 154.9 410.7 156.8 411.9 158.3C413.0 159.9 414.0 161.6 415.0 162.6C415.9 163.7 417.0 164.2 417.4 164.5M413.1 168.8C414.1 168.9 417.2 168.8 419.3 169.4C421.3 170.0 423.4 171.3 425.4 172.5C427.5 173.6 430.6 175.6 431.6 176.2M402.0 172.5C402.8 172.9 405.5 174.1 406.9 174.9C408.4 175.8 410.0 177.0 410.6 177.4M411.2 150.9C411.8 152.2 413.7 156.1 414.9 158.3C416.2 160.6 417.6 162.8 418.6 164.5C419.6 166.1 420.7 167.6 421.1 168.2M414.3 150.3C414.8 151.0 416.2 152.9 417.4 154.6C418.6 156.4 420.8 158.9 421.7 160.8C422.6 162.6 422.4 164.3 422.9 165.7C423.4 167.1 424.5 168.8 424.8 169.4M417.4 151.5C417.9 152.2 419.6 154.1 420.5 155.2C421.3 156.4 422.0 157.8 422.3 158.3M422.3 158.3C422.5 159.1 423.0 161.7 423.5 163.2C424.1 164.8 424.8 166.3 425.4 167.6C426.0 168.8 426.9 170.1 427.2 170.6M422.3 158.3C422.9 158.1 425.0 156.9 426.0 157.1C427.0 157.3 427.7 158.3 428.5 159.5C429.3 160.8 430.1 162.8 430.9 164.5C431.8 166.1 432.8 168.0 433.4 169.4C434.0 170.8 434.4 172.5 434.6 173.1M428.5 159.5C429.0 159.4 430.5 158.5 431.6 158.9C432.6 159.3 433.5 160.7 434.6 162.0C435.8 163.3 437.3 165.5 438.3 166.9C439.4 168.4 440.4 170.0 440.8 170.6M421.1 168.2C422.1 168.6 425.0 169.8 427.2 170.6C429.5 171.5 432.4 172.4 434.6 173.1C436.9 173.8 438.9 174.6 440.8 174.9C442.6 175.2 444.9 174.9 445.7 174.9M419.9 172.5C420.9 172.9 424.0 174.2 426.0 174.9C428.1 175.7 431.1 176.5 432.2 176.8M422.3 154.0C424.0 154.7 429.5 156.9 432.2 158.3C434.8 159.8 436.5 161.0 438.3 162.6C440.2 164.3 442.0 166.4 443.3 168.2C444.5 169.9 445.3 172.3 445.7 173.1M435.2 163.9C435.7 163.8 436.9 163.0 437.7 163.2C438.5 163.4 440.2 164.7 440.2 165.1C440.2 165.5 438.5 165.9 437.7 165.7C436.9 165.5 435.7 164.2 435.2 163.9M373.7 181.2C374.5 180.9 377.2 180.2 378.6 179.4C380.1 178.6 381.5 177.3 382.3 176.3C383.1 175.3 383.3 173.7 383.5 173.2M378.6 179.4C379.0 180.1 380.9 182.6 381.1 183.7C381.3 184.8 380.1 185.8 379.9 186.2M381.1 183.7C381.9 183.5 385.1 183.2 386.0 182.5C386.9 181.7 385.9 180.4 386.6 179.4C387.3 178.4 389.3 176.6 390.3 176.3C391.3 176.0 392.4 177.3 392.8 177.5M386.0 182.5C386.1 183.0 386.7 184.7 386.6 185.5C386.5 186.4 385.6 187.1 385.4 187.4M386.6 185.5C388.0 186.2 391.9 187.9 394.6 189.2C397.4 190.6 400.2 192.2 403.3 193.6C406.3 194.9 411.4 196.6 413.0 197.2M388.5 179.4C389.5 180.0 392.4 181.6 394.6 183.1C396.9 184.5 399.0 186.2 402.0 188.0C405.1 189.9 411.2 193.1 413.0 194.2M392.8 177.5C393.7 178.1 396.2 179.3 398.3 180.6C400.5 182.0 403.3 183.9 405.7 185.5C408.2 187.2 411.8 189.7 413.0 190.5M399.6 173.2C400.6 173.9 403.5 175.9 405.7 177.5C408.0 179.2 411.8 182.2 413.0 183.1M413.0 183.1C413.3 183.5 413.8 184.3 414.9 185.5C416.1 186.8 418.5 188.8 419.9 190.5C421.2 192.1 422.5 194.1 422.9 195.4C423.3 196.7 422.4 198.0 422.3 198.5M413.0 190.5C413.4 190.8 414.5 191.7 415.5 192.7C416.6 193.7 418.5 195.4 419.2 196.6C420.0 197.9 419.7 199.7 419.9 200.3M413.0 194.2C413.3 194.7 414.2 196.1 414.9 197.2C415.7 198.4 417.0 200.3 417.4 200.9M413.0 197.2C413.3 197.8 414.7 199.4 415.2 200.3C415.7 201.2 415.8 202.4 415.9 202.8M414.9 176.9C415.7 178.0 418.2 181.0 419.9 183.1C421.5 185.1 423.8 187.7 424.8 189.2C425.8 190.8 425.8 191.8 426.0 192.3M417.4 175.7C418.2 176.2 420.5 178.2 422.3 178.8C424.2 179.4 426.4 179.7 428.5 179.4C430.5 179.1 432.6 177.6 434.6 176.9C436.7 176.2 438.8 175.2 440.8 175.1C442.7 175.0 445.4 176.1 446.3 176.3M422.3 178.8C422.9 179.6 424.6 182.6 426.0 183.7C427.4 184.8 429.1 185.5 430.9 185.5C432.8 185.5 435.0 184.3 437.1 183.7C439.1 183.1 441.5 182.4 443.3 181.9C445.0 181.3 446.8 180.8 447.6 180.6M428.5 179.4C428.7 180.0 429.3 182.1 429.7 183.1C430.1 184.1 430.7 185.1 430.9 185.5M434.6 176.9C434.9 177.5 436.1 179.5 436.5 180.6C436.9 181.7 437.0 183.2 437.1 183.7M426.0 183.7C426.2 184.3 426.9 186.3 427.2 187.4C427.5 188.5 427.8 190.0 427.9 190.5M430.9 185.5C431.1 186.1 431.6 187.8 432.2 188.6C432.8 189.4 434.2 190.2 434.6 190.5M437.1 183.7C437.5 184.2 438.7 186.1 439.6 186.8C440.4 187.5 441.6 187.8 442.0 188.0M440.8 175.1C441.1 175.7 442.2 177.6 442.6 178.8C443.0 179.9 443.1 181.3 443.3 181.9M410.0 174.5C410.6 174.8 412.5 176.1 413.7 176.3C414.9 176.5 416.2 176.2 417.4 175.7C418.6 175.2 420.5 173.6 421.1 173.2" fill="none" stroke="#000" stroke-width="0.95" stroke-linecap="round" stroke-linejoin="round" clip-path="url(#bc1)"/>
<path d="M468.6 177.0C469.1 174.8 470.1 173.1 471.7 170.8C473.2 168.5 475.2 165.7 477.9 163.4C480.6 161.0 484.1 158.6 487.8 156.5C491.5 154.5 496.1 152.3 500.2 151.0C504.4 149.7 509.1 148.7 512.6 148.7C516.1 148.7 518.4 149.6 521.3 151.0C524.2 152.4 527.3 154.7 530.0 157.2C532.7 159.6 535.4 163.2 537.4 165.9C539.5 168.5 541.2 171.3 542.4 173.3C543.6 175.3 544.3 176.4 544.9 178.0C545.5 179.6 546.3 181.3 545.9 182.7C545.5 184.1 544.2 185.4 542.4 186.4C540.6 187.4 537.9 188.2 535.0 188.9C532.1 189.6 528.1 190.1 525.0 190.7C521.9 191.4 519.0 191.7 516.3 192.6C513.7 193.5 511.4 195.2 508.9 196.3C506.4 197.5 503.4 198.8 501.5 199.4C499.5 200.1 498.4 200.5 497.1 200.1C495.9 199.6 494.8 197.9 494.0 197.0C493.2 196.0 493.2 194.9 492.2 194.5C491.1 194.1 489.6 194.4 487.8 194.5C486.1 194.5 483.7 195.1 481.6 194.8C479.5 194.6 477.1 194.0 475.4 193.2C473.8 192.4 472.8 191.7 471.7 190.1C470.5 188.6 469.1 186.1 468.6 183.9C468.1 181.7 468.1 179.2 468.6 177.0Z" fill="#fefef0" stroke="#000" stroke-width="1.15" stroke-linejoin="round"/>
<path d="M474.2 193.0C474.9 192.6 477.9 192.6 480.0 192.3C482.1 192.0 485.0 191.1 486.6 191.3C488.2 191.6 490.1 193.2 489.9 193.8C489.7 194.4 486.9 194.8 485.3 195.0C483.7 195.2 481.6 195.3 480.0 195.2C478.4 195.1 477.0 195.0 476.0 194.6C475.0 194.2 473.5 193.4 474.2 193.0Z" fill="#efb8d4" stroke="none" stroke-width="0" stroke-linejoin="round"/>
<path d="M486.6 175.8C489.0 174.7 494.4 172.2 497.7 171.4C501.0 170.7 503.5 171.0 506.4 171.2C509.3 171.4 512.8 171.9 515.1 172.7C517.4 173.4 519.0 174.3 520.1 175.8C521.1 177.2 521.3 179.7 521.3 181.4C521.3 183.2 521.1 184.8 520.1 186.4C519.0 188.1 517.6 189.7 515.1 191.4C512.6 193.0 508.1 195.2 505.2 196.3C502.3 197.5 499.6 198.2 497.7 198.2C495.9 198.2 495.3 197.3 494.0 196.3C492.8 195.4 491.8 193.9 490.3 192.6C488.7 191.4 486.2 190.1 484.7 188.9C483.3 187.6 482.2 186.2 481.6 185.2C481.0 184.1 480.7 183.9 481.0 182.7C481.3 181.4 482.5 178.9 483.5 177.7C484.4 176.6 484.2 176.8 486.6 175.8Z" fill="#fefef0" stroke="#000" stroke-width="1.0" stroke-linejoin="round"/>
<clipPath id="bc2"><path d="M468.6 177.0C469.1 174.8 470.1 173.1 471.7 170.8C473.2 168.5 475.2 165.7 477.9 163.4C480.6 161.0 484.1 158.6 487.8 156.5C491.5 154.5 496.1 152.3 500.2 151.0C504.4 149.7 509.1 148.7 512.6 148.7C516.1 148.7 518.4 149.6 521.3 151.0C524.2 152.4 527.3 154.7 530.0 157.2C532.7 159.6 535.4 163.2 537.4 165.9C539.5 168.5 541.2 171.3 542.4 173.3C543.6 175.3 544.3 176.4 544.9 178.0C545.5 179.6 546.3 181.3 545.9 182.7C545.5 184.1 544.2 185.4 542.4 186.4C540.6 187.4 537.9 188.2 535.0 188.9C532.1 189.6 528.1 190.1 525.0 190.7C521.9 191.4 519.0 191.7 516.3 192.6C513.7 193.5 511.4 195.2 508.9 196.3C506.4 197.5 503.4 198.8 501.5 199.4C499.5 200.1 498.4 200.5 497.1 200.1C495.9 199.6 494.8 197.9 494.0 197.0C493.2 196.0 493.2 194.9 492.2 194.5C491.1 194.1 489.6 194.4 487.8 194.5C486.1 194.5 483.7 195.1 481.6 194.8C479.5 194.6 477.1 194.0 475.4 193.2C473.8 192.4 472.8 191.7 471.7 190.1C470.5 188.6 469.1 186.1 468.6 183.9C468.1 181.7 468.1 179.2 468.6 177.0Z"/></clipPath>
<path d="M468.1 186.4C468.3 185.1 468.6 180.8 469.5 178.3C470.4 175.9 471.6 174.0 473.4 171.9C475.2 169.7 478.0 167.4 480.3 165.6C482.6 163.8 485.1 162.2 487.2 161.0C489.4 159.9 492.1 159.1 493.0 158.7M493.0 158.7C493.3 159.5 494.0 161.7 494.4 163.3C494.8 164.9 495.2 167.4 495.3 168.2M493.0 158.7C494.2 158.6 497.4 158.3 500.0 158.0C502.5 157.7 506.7 157.2 508.0 157.1M481.5 165.6C481.3 166.6 480.2 169.8 480.3 171.4C480.4 173.0 481.7 174.5 481.9 175.1M478.7 183.4C479.0 182.2 479.1 178.0 480.3 176.0C481.6 174.0 483.6 172.6 486.1 171.4C488.6 170.2 491.9 169.2 495.3 168.6C498.8 168.1 503.4 168.1 506.9 168.2C510.3 168.2 513.6 168.5 516.1 169.1C518.6 169.7 520.4 170.7 521.9 171.9C523.4 173.0 524.3 174.6 524.9 176.0C525.5 177.5 525.3 179.9 525.4 180.6M508.0 157.1C508.2 156.2 509.0 152.7 509.2 151.8M508.0 157.1C508.4 158.1 509.6 161.8 510.3 163.3C511.1 164.9 511.5 165.7 512.7 166.3C513.8 167.0 516.5 167.1 517.3 167.2M510.3 156.4C511.9 155.8 518.0 153.5 519.6 152.9M519.6 152.9C520.2 153.9 523.4 157.0 523.0 158.7C522.7 160.4 519.0 162.1 517.3 163.3C515.5 164.6 513.4 165.8 512.7 166.3M523.0 158.7C524.0 159.3 528.2 160.6 528.8 162.2C529.4 163.7 527.9 166.6 526.5 167.9C525.2 169.3 521.7 169.9 520.7 170.2M528.8 162.2C529.4 161.7 531.7 159.9 532.3 159.4M526.5 167.9C527.5 168.9 530.2 172.2 532.3 173.7C534.4 175.3 537.2 176.4 539.2 177.2C541.2 177.9 543.4 178.1 544.3 178.3M530.4 167.2C531.1 166.6 533.3 163.4 534.6 163.3C535.9 163.2 536.7 165.1 538.1 166.8C539.4 168.4 541.9 172.2 542.7 173.3M523.5 178.3C524.6 178.5 527.4 179.1 530.0 179.5C532.6 179.9 536.7 180.1 539.2 180.6C541.8 181.2 544.2 182.6 545.2 183.0M520.7 184.1C521.9 184.1 524.6 184.2 527.7 184.3C530.7 184.5 536.4 184.4 539.2 184.8C542.0 185.2 543.4 186.3 544.3 186.6M473.4 187.6C473.8 186.8 474.8 183.6 475.7 183.0C476.6 182.3 478.2 183.3 478.7 183.4M469.9 183.0C470.7 182.6 473.0 181.4 474.5 180.6C476.1 179.9 478.4 178.7 479.2 178.3" fill="none" stroke="#000" stroke-width="0.95" stroke-linecap="round" stroke-linejoin="round" clip-path="url(#bc2)"/>
<path d="M377.8 227.7C379.3 226.1 382.1 222.9 384.9 220.6C387.7 218.3 391.1 215.8 394.8 213.8C398.5 211.8 403.1 209.9 407.2 208.8C411.4 207.7 416.5 207.2 419.6 207.2C422.7 207.2 423.6 207.6 425.8 208.8C428.1 210.0 431.0 212.2 433.3 214.4C435.6 216.6 437.4 219.4 439.5 221.9C441.5 224.3 444.3 227.5 445.6 229.3C446.9 231.1 446.8 231.3 447.3 232.6C447.8 233.9 448.3 235.8 448.5 237.3C448.7 238.8 449.0 240.3 448.5 241.6C448.1 243.0 447.2 244.3 445.7 245.4C444.2 246.4 441.8 247.0 439.5 247.9C437.2 248.7 434.9 249.2 432.0 250.3C429.1 251.5 425.2 253.3 422.1 254.7C419.0 256.0 416.1 257.7 413.4 258.4C410.7 259.1 408.0 259.2 406.0 259.0C403.9 258.8 402.4 258.2 401.0 257.2C399.7 256.1 399.2 254.3 397.9 252.8C396.7 251.4 395.3 249.5 393.6 248.5C391.8 247.4 389.6 247.2 387.4 246.6C385.1 246.0 381.9 245.6 379.9 244.7C378.0 243.9 376.6 243.0 375.6 241.6C374.5 240.3 373.9 238.1 373.7 236.7C373.5 235.2 374.2 234.1 374.5 233.0C374.8 231.9 375.2 231.1 375.8 230.2C376.4 229.3 376.3 229.3 377.8 227.7Z" fill="#fefef0" stroke="#000" stroke-width="1.15" stroke-linejoin="round"/>
<path d="M422.9 253.2C425.0 251.5 434.1 245.3 436.5 244.0C438.9 242.7 439.3 243.6 437.2 245.4C435.2 247.1 426.5 253.3 424.2 254.6C421.8 255.9 420.9 255.0 422.9 253.2Z" fill="#fbe3a6" stroke="none" stroke-width="0" stroke-linejoin="round"/>
<clipPath id="bc3"><path d="M377.8 227.7C379.3 226.1 382.1 222.9 384.9 220.6C387.7 218.3 391.1 215.8 394.8 213.8C398.5 211.8 403.1 209.9 407.2 208.8C411.4 207.7 416.5 207.2 419.6 207.2C422.7 207.2 423.6 207.6 425.8 208.8C428.1 210.0 431.0 212.2 433.3 214.4C435.6 216.6 437.4 219.4 439.5 221.9C441.5 224.3 444.3 227.5 445.6 229.3C446.9 231.1 446.8 231.3 447.3 232.6C447.8 233.9 448.3 235.8 448.5 237.3C448.7 238.8 449.0 240.3 448.5 241.6C448.1 243.0 447.2 244.3 445.7 245.4C444.2 246.4 441.8 247.0 439.5 247.9C437.2 248.7 434.9 249.2 432.0 250.3C429.1 251.5 425.2 253.3 422.1 254.7C419.0 256.0 416.1 257.7 413.4 258.4C410.7 259.1 408.0 259.2 406.0 259.0C403.9 258.8 402.4 258.2 401.0 257.2C399.7 256.1 399.2 254.3 397.9 252.8C396.7 251.4 395.3 249.5 393.6 248.5C391.8 247.4 389.6 247.2 387.4 246.6C385.1 246.0 381.9 245.6 379.9 244.7C378.0 243.9 376.6 243.0 375.6 241.6C374.5 240.3 373.9 238.1 373.7 236.7C373.5 235.2 374.2 234.1 374.5 233.0C374.8 231.9 375.2 231.1 375.8 230.2C376.4 229.3 376.3 229.3 377.8 227.7Z"/></clipPath>
<path d="M376.2 232.6C377.0 231.3 379.0 227.5 381.1 225.2C383.1 222.8 385.6 220.3 388.5 218.4C391.3 216.4 394.8 214.9 398.3 213.5C401.8 212.0 407.6 210.4 409.4 209.8M379.9 225.8C380.3 225.6 381.9 224.8 382.3 224.6M400.8 215.9C401.8 215.3 405.1 213.3 406.9 212.2C408.8 211.2 411.1 210.2 411.9 209.8M384.8 229.5C385.6 228.6 388.1 225.6 389.7 223.9C391.3 222.3 392.9 220.9 394.6 219.6C396.4 218.4 399.2 217.1 400.2 216.5M400.2 216.5C400.1 217.4 399.9 219.8 399.6 221.5C399.2 223.1 398.3 224.8 398.3 226.4C398.3 228.0 399.1 230.0 399.6 231.3C400.0 232.7 400.6 233.9 400.8 234.4M394.0 220.9C393.8 221.8 392.8 224.7 392.8 226.4C392.8 228.1 393.5 230.1 394.0 231.3C394.5 232.6 395.6 233.4 395.9 233.8M406.9 212.2C406.6 213.2 405.7 216.0 405.1 217.8C404.5 219.5 403.7 221.1 403.3 222.7C402.8 224.3 402.4 226.4 402.6 227.6C402.8 228.9 404.2 229.7 404.5 230.1M411.9 209.8C411.6 210.7 410.6 213.4 410.0 215.3C409.4 217.3 408.7 219.5 408.2 221.5C407.7 223.4 407.2 226.1 406.9 227.0M378.6 233.8C379.2 233.5 380.9 232.1 382.3 231.9C383.8 231.7 386.0 232.1 387.2 232.6C388.5 233.0 389.3 234.1 389.7 234.4M402.6 227.6C403.4 227.5 405.2 227.0 406.9 227.0C408.7 227.0 412.0 227.5 413.0 227.6M395.9 233.8C396.7 233.5 398.9 232.7 400.8 231.9C402.6 231.2 405.9 229.9 406.9 229.5M419.2 207.9C418.9 208.7 418.2 211.2 417.4 212.9C416.6 214.5 415.2 216.1 414.3 217.8C413.4 219.4 412.6 221.3 411.8 222.7C411.1 224.1 410.3 225.8 410.0 226.4M416.2 207.9C415.7 208.6 414.7 210.6 413.7 212.2C412.7 213.9 410.6 216.9 410.0 217.8M412.5 207.7C412.1 208.3 410.4 211.0 410.0 211.6M424.8 209.8C424.9 210.6 425.1 213.3 425.4 214.7C425.7 216.1 426.0 217.4 426.6 218.4C427.2 219.4 428.7 220.4 429.1 220.9M425.4 214.7C426.1 214.6 428.4 214.0 429.7 214.1C431.0 214.2 432.8 215.1 433.4 215.3M426.6 218.4C425.9 218.6 423.9 219.1 422.3 219.6C420.8 220.1 418.8 220.7 417.4 221.5C416.0 222.3 414.7 223.4 413.7 224.6C412.7 225.7 411.8 227.0 411.2 228.2C410.6 229.5 410.2 231.3 410.0 231.9M429.1 220.9C429.2 221.6 429.8 223.7 429.7 225.2C429.6 226.6 428.9 228.0 428.5 229.5C428.1 230.9 427.4 233.1 427.2 233.8M429.1 220.9C429.7 221.2 431.6 222.2 432.8 222.7C434.0 223.2 435.3 223.1 436.5 223.9C437.6 224.8 438.7 226.2 439.6 227.6C440.4 229.1 441.1 231.7 441.4 232.6M428.5 229.5C429.0 229.1 430.5 227.7 431.6 227.0C432.6 226.3 433.8 225.7 434.6 225.2C435.5 224.7 436.2 224.1 436.5 223.9M414.9 227.6C415.5 227.3 417.4 225.9 418.6 225.8C419.9 225.7 421.4 226.2 422.3 227.0C423.2 227.8 424.2 229.5 424.2 230.7C424.2 231.9 422.6 233.8 422.3 234.4M433.4 215.3C433.9 216.0 435.3 218.1 436.5 219.6C437.6 221.2 439.0 222.9 440.2 224.6C441.3 226.2 442.7 228.7 443.3 229.5M374.3 234.2C375.2 233.8 377.9 232.5 379.9 232.3C381.8 232.1 384.0 233.0 386.0 232.9C388.1 232.8 390.1 232.2 392.2 231.7C394.2 231.2 396.7 230.5 398.3 229.8C400.0 229.2 401.4 228.3 402.0 228.0M374.9 239.7C376.0 239.3 378.8 237.7 381.1 237.2C383.3 236.7 386.0 236.9 388.5 236.6C390.9 236.3 393.4 235.9 395.9 235.4C398.3 234.9 400.8 234.2 403.3 233.5C405.7 232.9 409.0 232.2 410.6 231.7C412.3 231.2 412.6 230.7 413.0 230.5M377.4 243.4C378.4 243.1 381.3 242.1 383.5 241.5C385.8 241.0 388.5 240.6 390.9 240.3C393.4 240.0 396.1 240.1 398.3 239.7C400.6 239.3 402.0 238.7 404.5 237.9C406.9 237.0 411.6 235.3 413.0 234.8M382.3 245.9C383.3 245.5 386.4 244.4 388.5 244.0C390.5 243.6 393.1 243.9 394.6 243.4C396.2 242.9 397.2 241.3 397.7 240.9M379.9 232.3C380.1 233.1 380.9 236.4 381.1 237.2M386.0 232.9C386.4 233.5 388.1 236.0 388.5 236.6M392.2 231.7C392.8 232.3 395.2 234.8 395.9 235.4M383.5 241.5C383.1 240.8 381.5 238.0 381.1 237.2M390.9 240.3C390.5 239.7 388.9 237.2 388.5 236.6M388.5 244.0C388.9 243.4 390.5 240.9 390.9 240.3M394.6 243.4C394.9 244.2 396.0 246.7 396.5 248.3C397.0 250.0 397.5 252.4 397.7 253.2M390.9 244.6C391.3 245.3 393.0 248.2 393.4 248.9M397.7 240.9C397.5 242.2 396.7 247.1 396.5 248.3M397.7 253.2C398.4 252.1 400.5 248.4 402.0 246.5C403.6 244.5 405.1 243.2 406.9 241.5C408.8 239.9 412.0 237.4 413.0 236.6M400.8 257.6C401.6 256.3 404.1 252.4 405.7 250.2C407.4 247.9 409.4 245.4 410.6 244.0C411.9 242.6 412.6 242.0 413.0 241.5M398.3 239.7C398.9 240.2 401.7 241.6 402.0 242.8C402.3 243.9 400.5 245.9 400.2 246.5M410.0 236.6C410.8 236.4 413.3 236.0 414.9 235.4C416.6 234.8 418.4 233.8 419.9 232.9C421.3 232.0 422.7 230.7 423.5 229.8C424.4 229.0 424.6 228.3 424.8 228.0M410.0 241.5C411.0 241.2 414.1 240.5 416.2 239.7C418.2 238.9 420.5 237.7 422.3 236.6C424.2 235.5 426.0 234.1 427.2 232.9C428.5 231.8 429.0 230.7 429.7 229.8C430.4 229.0 431.2 228.3 431.6 228.0M410.0 246.5C411.2 246.1 414.9 245.0 417.4 244.0C419.9 243.0 422.5 241.5 424.8 240.3C427.0 239.1 429.5 237.6 430.9 236.6C432.4 235.6 433.0 234.6 433.4 234.2M410.0 252.0C411.2 251.5 414.7 250.3 417.4 248.9C420.1 247.6 423.3 245.5 426.0 244.0C428.7 242.5 431.8 240.6 433.4 239.7C435.0 238.8 435.5 238.7 435.9 238.5M410.0 256.3C411.4 255.7 415.7 254.0 418.6 252.6C421.5 251.3 424.5 249.9 427.2 248.3C430.0 246.8 433.9 244.2 435.2 243.4M433.4 234.2C433.9 234.9 436.2 236.9 436.5 238.5C436.8 240.0 435.0 242.1 435.2 243.4C435.5 244.7 437.0 245.8 437.7 246.5C438.4 247.2 439.2 247.5 439.6 247.7M436.5 238.5C437.2 238.4 439.8 237.5 440.8 237.9C441.8 238.2 442.6 239.4 442.6 240.3C442.6 241.2 441.6 242.8 440.8 243.4C440.0 244.0 438.2 243.9 437.7 244.0M433.4 234.2C434.0 234.0 435.9 233.3 437.1 232.9C438.3 232.5 439.5 231.7 440.8 231.7C442.1 231.7 444.4 232.7 445.1 232.9M440.8 237.9C441.1 237.3 442.6 235.8 442.6 234.8C442.6 233.7 441.1 232.2 440.8 231.7M442.6 240.3C443.1 240.4 444.8 240.9 445.7 240.9C446.6 240.9 447.8 240.4 448.2 240.3M442.6 234.8C443.1 234.9 444.7 235.2 445.7 235.4C446.7 235.6 448.0 235.9 448.4 236.0M438.3 229.2C438.7 229.6 440.4 231.3 440.8 231.7" fill="none" stroke="#000" stroke-width="0.95" stroke-linecap="round" stroke-linejoin="round" clip-path="url(#bc3)"/>
<path d="M474.2 227.6C475.8 225.2 478.1 221.5 480.4 218.9C482.6 216.3 485.1 213.7 487.8 212.1C490.5 210.5 493.2 209.5 496.5 209.2C499.8 208.9 503.9 209.4 507.7 210.2C511.4 211.0 515.3 212.5 518.8 213.9C522.3 215.4 525.7 216.9 528.8 218.9C531.9 220.9 535.0 223.2 537.4 225.7C539.9 228.2 542.2 231.1 543.6 233.8C545.1 236.4 545.9 239.3 545.9 241.6C545.9 244.0 544.8 246.2 543.6 247.9C542.4 249.5 541.0 250.7 538.7 251.6C536.4 252.4 532.9 252.4 530.0 252.8C527.1 253.3 523.8 253.4 521.3 254.3C518.8 255.2 517.4 257.6 515.1 258.4C512.8 259.2 510.1 259.4 507.7 259.0C505.2 258.6 502.9 257.1 500.2 255.9C497.5 254.8 494.6 253.0 491.5 252.2C488.4 251.4 484.7 251.6 481.6 251.0C478.5 250.3 475.1 249.6 472.9 248.5C470.8 247.3 469.4 245.7 468.6 244.1C467.8 242.6 467.7 241.0 468.0 239.2C468.3 237.3 469.4 234.9 470.4 233.0C471.5 231.0 472.5 229.9 474.2 227.6Z" fill="#fefef0" stroke="#000" stroke-width="1.15" stroke-linejoin="round"/>
<path d="M492.8 235.0C494.1 234.3 497.9 231.2 500.2 230.1C502.5 228.9 503.9 228.4 506.4 228.2C508.9 227.9 512.4 228.2 515.1 228.6C517.8 228.9 520.1 229.4 522.6 230.3C525.0 231.2 528.2 232.7 530.0 234.1C531.8 235.6 532.9 238.0 533.1 238.9C533.3 239.8 531.8 239.8 531.0 239.4C530.2 239.0 529.7 237.8 528.1 236.7C526.5 235.6 523.7 233.9 521.3 233.0C518.9 232.0 516.3 231.5 513.9 231.1C511.4 230.7 508.7 230.5 506.4 230.7C504.1 230.9 502.1 231.6 500.2 232.3C498.4 233.1 496.5 234.4 495.3 235.4C494.0 236.5 493.4 238.3 492.8 238.7C492.1 239.1 491.4 238.7 491.3 237.9C491.2 237.2 492.0 234.7 492.3 234.2C492.5 233.7 491.5 235.7 492.8 235.0Z" fill="#f7c3dc" stroke="none" stroke-width="0" stroke-linejoin="round"/>
<path d="M492.2 238.9C492.8 237.9 494.2 236.7 495.5 235.8C496.9 234.9 498.4 234.0 500.2 233.3C502.0 232.7 504.1 231.9 506.4 231.7C508.7 231.5 511.4 231.6 513.9 232.0C516.3 232.3 518.9 232.9 521.3 233.8C523.7 234.8 526.3 236.5 528.1 237.6C530.0 238.6 531.5 238.8 532.5 239.9C533.4 241.0 534.1 242.8 533.7 244.1C533.3 245.5 531.4 246.8 530.0 247.9C528.6 248.9 526.5 249.3 525.0 250.3C523.6 251.4 523.0 252.8 521.3 254.1C519.7 255.3 517.2 257.1 515.1 257.8C513.0 258.5 511.0 258.7 508.9 258.4C506.8 258.1 504.8 257.2 502.7 255.9C500.6 254.7 498.2 252.5 496.5 251.0C494.8 249.4 493.6 248.2 492.8 246.6C491.9 245.1 491.6 242.9 491.5 241.6C491.4 240.4 491.5 239.9 492.2 238.9Z" fill="#fefef0" stroke="#000" stroke-width="1.0" stroke-linejoin="round"/>
<path d="M491.3 246.6C492.0 247.7 494.8 251.0 497.1 252.8C499.4 254.6 502.6 256.5 505.2 257.5C507.8 258.5 511.4 258.7 512.6 258.8C513.9 258.8 513.8 258.2 512.6 257.8C511.5 257.4 508.2 257.3 505.8 256.3C503.4 255.3 500.5 253.3 498.4 251.6C496.2 249.9 494.0 246.8 492.8 246.0C491.6 245.2 490.6 245.5 491.3 246.6Z" fill="#f3c6a6" stroke="none" stroke-width="0" stroke-linejoin="round"/>
<circle cx="529.5" cy="248" r="0.9" fill="#f6b6d2"/>
<clipPath id="bc4"><path d="M474.2 227.6C475.8 225.2 478.1 221.5 480.4 218.9C482.6 216.3 485.1 213.7 487.8 212.1C490.5 210.5 493.2 209.5 496.5 209.2C499.8 208.9 503.9 209.4 507.7 210.2C511.4 211.0 515.3 212.5 518.8 213.9C522.3 215.4 525.7 216.9 528.8 218.9C531.9 220.9 535.0 223.2 537.4 225.7C539.9 228.2 542.2 231.1 543.6 233.8C545.1 236.4 545.9 239.3 545.9 241.6C545.9 244.0 544.8 246.2 543.6 247.9C542.4 249.5 541.0 250.7 538.7 251.6C536.4 252.4 532.9 252.4 530.0 252.8C527.1 253.3 523.8 253.4 521.3 254.3C518.8 255.2 517.4 257.6 515.1 258.4C512.8 259.2 510.1 259.4 507.7 259.0C505.2 258.6 502.9 257.1 500.2 255.9C497.5 254.8 494.6 253.0 491.5 252.2C488.4 251.4 484.7 251.6 481.6 251.0C478.5 250.3 475.1 249.6 472.9 248.5C470.8 247.3 469.4 245.7 468.6 244.1C467.8 242.6 467.7 241.0 468.0 239.2C468.3 237.3 469.4 234.9 470.4 233.0C471.5 231.0 472.5 229.9 474.2 227.6Z"/></clipPath>
<path d="M475.5 226.6C476.1 225.7 477.6 222.9 479.1 221.2C480.6 219.5 482.5 217.9 484.5 216.5C486.5 215.0 489.9 213.2 491.0 212.6M491.0 212.6C491.3 213.0 492.0 213.6 493.1 214.8C494.2 215.9 495.8 218.1 497.4 219.5C499.0 220.9 501.7 222.4 502.8 223.4C503.9 224.4 503.7 225.1 503.9 225.5M504.9 210.5C505.1 211.5 506.2 214.4 506.0 216.9C505.8 219.4 504.2 224.1 503.9 225.5M484.5 220.1C486.5 219.9 494.0 218.3 496.3 219.1C498.7 219.8 499.0 222.9 498.5 224.4C497.9 225.9 495.1 227.6 493.1 228.1C491.1 228.6 488.1 228.6 486.7 227.2C485.2 225.9 484.9 221.3 484.5 220.1M475.9 226.6C477.2 226.4 481.7 225.1 483.4 225.5C485.2 225.9 486.2 226.9 486.2 228.7C486.2 230.5 485.2 235.1 483.4 236.3C481.7 237.4 477.5 236.7 475.9 235.8C474.3 234.9 473.8 232.4 473.8 230.9C473.8 229.3 475.5 227.3 475.9 226.6M506.0 216.9C508.0 217.1 515.6 216.5 517.8 218.0C520.1 219.4 519.1 224.3 519.3 225.5M517.8 218.0C518.2 218.2 517.8 218.3 520.0 219.1C522.1 219.8 528.5 220.1 530.7 222.3C533.0 224.4 533.1 230.3 533.5 232.0M484.5 238.4C485.0 237.5 486.1 234.7 487.7 233.0C489.3 231.3 491.5 229.6 494.2 228.3C496.9 227.0 499.7 226.0 503.9 225.5C508.1 225.0 515.0 224.7 519.3 225.5C523.6 226.3 526.9 228.1 529.7 230.2C532.4 232.4 534.7 237.0 535.7 238.4M467.3 241.6C468.7 241.3 473.0 240.0 475.9 239.5C478.8 238.9 482.0 238.4 484.5 238.4C487.0 238.4 489.9 239.3 491.0 239.5M468.4 245.9C470.3 245.8 476.3 245.1 480.2 244.9C484.1 244.6 490.1 244.5 492.0 244.4M473.8 230.9C472.9 232.3 469.3 238.1 468.4 239.5M535.7 238.4C536.5 239.4 538.9 243.1 540.4 244.4C541.9 245.8 544.0 246.2 544.7 246.6M532.9 245.9C533.8 246.5 536.3 248.7 538.3 249.2C540.2 249.6 543.6 248.8 544.7 248.7M533.5 232.0C534.5 232.3 537.8 232.9 539.3 234.1C540.9 235.4 542.4 238.6 543.0 239.5" fill="none" stroke="#000" stroke-width="0.95" stroke-linecap="round" stroke-linejoin="round" clip-path="url(#bc4)"/>
<path d="M623.7 183.0C624.2 181.1 624.1 174.5 624.2 170.6C624.2 166.7 624.5 161.8 624.0 159.4C623.6 157.1 622.7 157.1 621.6 156.7C620.4 156.3 618.6 157.1 617.2 157.2C615.9 157.4 614.9 157.3 613.5 157.6C612.1 157.9 610.0 158.7 608.5 159.2C607.1 159.7 606.1 160.0 604.8 160.7C603.6 161.3 602.0 162.4 601.1 163.2C600.2 163.9 599.7 164.1 599.2 165.0C598.7 166.0 598.3 167.6 598.0 168.7C597.7 169.9 597.9 171.1 597.4 171.9C596.9 172.6 595.7 172.7 594.9 173.1C594.1 173.5 593.2 173.8 592.4 174.3C591.6 174.8 590.6 175.5 589.9 176.2C589.2 176.9 588.6 177.8 588.1 178.7C587.5 179.5 587.1 180.3 586.8 181.2C586.5 182.0 586.5 183.1 586.2 183.6C585.9 184.2 585.4 183.4 585.0 184.5C584.5 185.6 584.1 188.4 583.7 190.5C583.4 192.5 583.0 194.6 582.9 196.7C582.7 198.7 582.8 200.7 582.9 202.9C583.0 205.0 583.3 208.0 583.5 209.7C583.7 211.3 583.6 211.3 584.0 212.8C584.3 214.3 584.6 216.8 585.6 218.9C586.6 220.9 588.6 223.1 589.9 225.1C591.3 227.0 591.6 229.3 593.6 230.7C595.7 232.1 599.9 233.6 602.3 233.5C604.8 233.4 606.5 231.5 608.5 230.0C610.6 228.5 613.3 226.1 614.7 224.5C616.2 222.8 616.3 221.4 617.2 220.1C618.2 218.8 619.3 217.7 620.3 216.5C621.4 215.3 622.9 213.8 623.4 212.8C624.0 211.8 624.1 211.1 623.7 210.3C623.3 209.5 622.0 208.5 620.9 208.1C619.9 207.7 618.0 207.3 617.2 207.8C616.4 208.4 616.0 210.5 616.0 211.6C616.0 212.6 617.4 213.0 617.2 214.0C617.0 215.1 615.8 216.5 614.7 217.8C613.7 219.0 612.4 220.3 611.0 221.5C609.7 222.6 608.1 223.8 606.7 224.6C605.2 225.4 603.5 226.4 602.3 226.4C601.2 226.5 599.9 225.6 599.9 225.0C599.9 224.3 602.2 223.3 602.3 222.7C602.4 222.1 601.3 221.2 600.5 221.5C599.6 221.8 598.4 224.0 597.4 224.6C596.3 225.2 595.2 225.5 594.3 225.2C593.3 224.9 592.1 223.8 591.8 222.7C591.5 221.7 592.7 220.0 592.4 219.0C592.1 218.0 590.1 217.4 589.9 216.5C589.7 215.6 591.3 214.4 591.2 213.4C591.1 212.4 589.1 211.1 589.3 210.3C589.5 209.5 590.9 208.5 592.4 208.5C594.0 208.5 597.1 210.1 598.6 210.3C600.2 210.5 601.1 210.5 601.7 209.7C602.3 208.9 601.8 207.1 602.3 205.3C602.8 203.6 604.5 201.0 604.8 199.1C605.1 197.3 604.5 195.4 604.2 194.2C603.9 193.0 603.9 192.3 603.0 192.0C602.0 191.6 600.2 191.7 598.6 192.0C597.1 192.2 595.3 193.1 593.6 193.7C592.0 194.3 589.7 195.7 588.7 195.7C587.7 195.7 587.3 194.3 587.4 193.6C587.5 192.9 589.3 192.2 589.3 191.5C589.3 190.7 587.9 190.0 587.7 189.2C587.5 188.4 587.4 187.4 588.2 186.7C589.0 186.0 590.9 185.5 592.4 185.0C593.9 184.5 596.1 184.4 597.4 183.8C598.7 183.1 599.7 181.3 600.1 181.3C600.5 181.3 600.0 183.9 599.9 183.6C599.7 183.4 599.4 181.1 599.2 179.9C599.0 178.8 598.5 178.0 598.6 176.8C598.7 175.7 599.3 174.1 599.6 173.1C599.9 172.1 600.0 171.5 600.5 170.6C600.9 169.7 601.6 167.8 602.3 167.5C603.1 167.2 604.1 168.5 604.8 168.7C605.5 169.0 605.7 168.9 606.7 168.7C607.6 168.6 609.3 168.2 610.4 167.9C611.5 167.6 612.7 167.4 613.5 166.9C614.3 166.4 614.7 165.6 615.4 165.0C616.0 164.4 616.5 163.9 617.2 163.2C617.9 162.4 618.8 161.3 619.5 160.7C620.1 160.1 620.5 159.2 620.9 159.4C621.4 159.7 622.1 161.1 622.2 161.9C622.3 162.8 621.8 163.6 621.6 164.4C621.4 165.2 620.9 166.1 620.9 166.9C621.0 167.7 621.7 168.5 621.9 169.4C622.1 170.2 622.5 171.1 622.2 171.9C621.9 172.6 620.8 173.1 620.3 173.7C619.8 174.3 619.2 175.0 619.1 175.6C619.0 176.2 619.5 176.9 619.7 177.4C619.9 178.0 620.0 178.2 620.3 178.7C620.7 179.2 621.8 179.7 621.9 180.3C622.0 180.9 620.7 181.9 620.9 182.4C621.2 182.9 623.1 185.0 623.7 183.0Z" fill="#fefef0" stroke="#707070" stroke-width="0.6" stroke-linejoin="round"/>
<path d="M627.9 183.6C627.6 181.9 627.2 174.4 627.1 170.6C627.1 166.8 626.9 163.0 627.8 160.7C628.6 158.4 630.5 157.5 632.1 157.0C633.8 156.4 636.5 157.0 637.7 157.6C638.9 158.2 639.0 159.8 639.6 160.7C640.1 161.6 640.3 162.9 641.0 163.2C641.8 163.4 642.9 162.5 643.9 162.2C644.9 161.9 646.0 161.3 647.0 161.3C648.0 161.3 649.2 161.8 650.1 162.2C651.0 162.6 651.8 162.9 652.6 163.8C653.4 164.7 654.3 166.4 655.1 167.5C655.8 168.6 656.2 169.6 656.9 170.6C657.6 171.6 658.6 172.4 659.4 173.3C660.2 174.3 661.2 175.1 661.9 176.2C662.6 177.3 663.0 178.6 663.7 179.9C664.5 181.3 665.8 182.3 666.6 184.3C667.4 186.2 668.0 189.2 668.3 191.7C668.7 194.2 668.8 196.7 668.8 199.1C668.9 201.6 668.7 204.1 668.5 206.6C668.3 209.1 668.0 212.0 667.6 214.0C667.2 216.1 667.5 216.7 666.1 218.9C664.7 221.0 661.8 224.8 659.4 226.9C657.0 229.1 654.2 231.3 652.0 231.9C649.7 232.5 647.6 231.7 645.8 230.7C643.9 229.6 642.3 227.2 640.8 225.7C639.2 224.1 637.8 222.9 636.5 221.4C635.1 219.8 634.0 217.9 632.7 216.5C631.5 215.1 629.7 213.9 629.0 212.8C628.3 211.7 628.1 210.9 628.4 210.1C628.7 209.3 629.8 208.5 630.9 208.1C631.9 207.7 633.8 207.3 634.6 207.8C635.4 208.4 635.7 210.4 635.8 211.6C635.9 212.7 634.8 213.5 635.2 214.7C635.6 215.8 637.1 217.0 638.3 218.4C639.6 219.7 641.1 221.4 642.7 222.7C644.2 224.0 646.0 225.6 647.6 226.2C649.3 226.8 651.2 226.8 652.6 226.4C653.9 226.1 655.6 224.7 655.7 224.0C655.8 223.2 653.1 222.6 653.2 222.1C653.3 221.6 655.3 220.7 656.3 220.9C657.3 221.1 658.5 223.5 659.4 223.3C660.3 223.1 661.7 220.9 661.9 219.6C662.1 218.4 660.5 217.0 660.6 215.9C660.8 214.8 662.8 213.9 662.9 212.8C663.0 211.7 662.1 209.8 661.3 209.1C660.5 208.3 659.5 208.2 658.2 208.5C656.8 208.7 654.5 210.3 653.2 210.3C651.9 210.3 650.7 209.5 650.1 208.5C649.5 207.4 649.9 205.7 649.5 204.1C649.1 202.6 647.9 200.8 647.6 199.1C647.4 197.5 647.5 195.4 648.0 194.2C648.5 193.0 649.4 192.2 650.7 192.0C652.0 191.7 654.0 192.3 655.7 192.9C657.3 193.6 659.4 195.6 660.6 195.7C661.8 195.8 662.8 194.3 662.9 193.6C663.0 192.9 661.2 192.2 661.3 191.5C661.3 190.7 663.1 190.1 663.4 189.2C663.6 188.3 663.5 186.9 662.9 186.1C662.2 185.3 660.6 185.0 659.4 184.5C658.2 184.0 656.5 183.2 655.7 183.0C654.9 182.9 654.4 184.4 654.4 183.6C654.4 182.9 655.8 180.0 655.7 178.7C655.6 177.3 654.4 176.6 653.8 175.6C653.2 174.5 652.4 173.5 652.0 172.5C651.5 171.4 651.7 170.3 651.3 169.4C651.0 168.4 650.7 167.5 650.1 166.9C649.5 166.3 648.7 166.0 648.0 165.9C647.3 165.8 646.4 165.8 645.8 166.3C645.1 166.7 644.5 167.9 643.9 168.7C643.3 169.6 642.8 171.3 642.0 171.2C641.3 171.1 640.4 169.3 639.6 168.1C638.7 167.0 637.8 165.3 637.1 164.4C636.3 163.5 635.8 163.1 635.2 162.5C634.6 162.0 634.0 161.3 633.3 161.3C632.7 161.3 632.0 162.0 631.5 162.5C631.0 163.1 630.5 163.1 630.2 164.4C630.0 165.8 630.1 169.0 630.2 170.6C630.4 172.3 630.9 173.3 631.1 174.3C631.3 175.4 631.7 176.1 631.5 176.8C631.2 177.5 630.1 178.0 629.6 178.7C629.2 179.4 628.9 180.3 628.6 181.2C628.3 182.0 628.1 185.4 627.9 183.6Z" fill="#fefef0" stroke="#707070" stroke-width="0.6" stroke-linejoin="round"/>
<path d="M589.3 198.1C589.8 197.6 592.3 196.9 593.6 196.6C595.0 196.3 596.5 195.9 597.4 196.1C598.3 196.3 598.8 196.7 599.0 197.9C599.2 199.0 599.0 201.0 598.7 202.8C598.5 204.6 598.3 207.7 597.6 208.8C596.9 209.8 595.2 209.9 594.6 209.0C594.0 208.1 594.3 204.8 594.0 203.4C593.7 202.0 593.5 201.2 592.9 200.6C592.3 199.9 591.3 200.0 590.7 199.6C590.1 199.2 588.8 198.6 589.3 198.1Z" fill="#fff" stroke="#707070" stroke-width="0.5" stroke-linejoin="round"/>
<path d="M662.5 198.1C662.0 197.6 659.5 196.9 658.2 196.6C656.8 196.3 655.3 195.9 654.4 196.1C653.6 196.3 653.1 196.7 652.8 197.9C652.6 199.0 652.8 201.0 653.1 202.8C653.3 204.6 653.5 207.7 654.2 208.8C654.9 209.8 656.6 209.9 657.2 209.0C657.8 208.1 657.5 204.8 657.8 203.4C658.1 202.0 658.3 201.2 658.9 200.6C659.5 199.9 660.5 200.0 661.1 199.6C661.7 199.2 663.0 198.6 662.5 198.1Z" fill="#fff" stroke="#707070" stroke-width="0.5" stroke-linejoin="round"/>
<path d="M585.0 200.6C585.7 200.8 588.1 201.3 589.3 201.6C590.5 201.9 591.8 201.8 592.4 202.3C593.0 202.8 593.3 204.1 592.9 204.7C592.5 205.2 590.8 205.5 589.9 205.5C589.0 205.6 588.1 204.8 587.4 205.1C586.8 205.3 585.8 206.1 585.8 206.8C585.8 207.5 587.2 208.9 587.4 209.3M666.8 200.6C666.1 200.8 663.7 201.3 662.5 201.6C661.3 201.9 660.0 201.8 659.4 202.3C658.8 202.8 658.5 204.1 658.9 204.7C659.3 205.2 661.0 205.5 661.9 205.5C662.8 205.6 663.7 204.8 664.4 205.1C665.0 205.3 666.0 206.1 666.0 206.8C666.0 207.5 664.6 208.9 664.4 209.3M588.7 211.4C589.2 211.8 591.5 212.6 591.8 213.3C592.1 214.0 590.4 215.1 590.5 215.8C590.6 216.5 592.1 217.3 592.4 217.6M598.6 225.1C598.9 225.4 599.7 226.8 600.5 227.0C601.2 227.1 602.4 226.6 603.0 226.1C603.5 225.6 603.5 224.2 603.6 223.8M663.1 211.4C662.6 211.8 660.3 212.6 660.0 213.3C659.7 214.0 661.4 215.1 661.3 215.8C661.2 216.5 659.7 217.3 659.4 217.6M653.2 225.1C652.9 225.4 652.1 226.8 651.3 227.0C650.6 227.1 649.4 226.6 648.9 226.1C648.3 225.6 648.3 224.2 648.2 223.8M587.4 180.5C587.8 180.9 589.3 182.1 589.3 183.0C589.3 183.8 588.0 185.0 587.7 185.4M664.4 180.5C664.1 180.9 662.5 182.1 662.5 183.0C662.5 183.8 663.9 185.0 664.1 185.4" fill="none" stroke="#707070" stroke-width="0.5" stroke-linecap="round" stroke-linejoin="round"/>
<path d="M609.2 197.9C610.2 198.1 612.2 201.3 612.5 202.8C612.8 204.4 612.0 206.6 611.0 207.2C610.0 207.7 607.5 206.9 606.7 205.9C605.8 205.0 605.6 202.9 606.1 201.6C606.5 200.2 608.1 197.6 609.2 197.9Z" fill="#fefef0" stroke="#707070" stroke-width="0.6" stroke-linejoin="round"/>
<path d="M640.8 202.2C641.7 202.2 643.9 204.9 643.9 205.9C643.9 207.0 641.7 208.4 640.8 208.4C639.9 208.4 638.3 207.0 638.3 205.9C638.3 204.9 639.9 202.2 640.8 202.2Z" fill="#fefef0" stroke="#707070" stroke-width="0.6" stroke-linejoin="round"/>
<path d="M626.5 189.8C627.4 188.8 630.2 188.0 632.1 187.3C634.0 186.6 636.6 185.1 637.7 185.4C638.8 185.8 638.9 187.8 638.6 189.2C638.3 190.5 637.3 192.6 635.8 193.5C634.3 194.4 631.1 194.8 629.6 194.8C628.1 194.8 627.4 194.3 626.9 193.5C626.4 192.7 625.7 190.8 626.5 189.8Z" fill="#fefef0" stroke="#707070" stroke-width="0.6" stroke-linejoin="round"/>
<path d="M626.9 195.4C628.1 193.5 632.9 193.7 634.6 194.1C636.3 194.5 637.3 196.4 637.3 197.9C637.3 199.3 635.9 201.3 634.6 202.8C633.3 204.4 630.9 206.7 629.6 207.2C628.4 207.6 627.6 207.3 627.1 205.3C626.7 203.3 625.7 197.2 626.9 195.4Z" fill="#fefef0" stroke="#707070" stroke-width="0.6" stroke-linejoin="round"/>
<path d="M612.5 188.9C612.5 188.4 613.3 187.9 613.7 188.4C614.2 188.9 615.4 191.4 615.4 191.9C615.3 192.4 614.0 191.9 613.5 191.4C613.0 190.9 612.5 189.4 612.5 188.9Z" fill="#a8dcc8" stroke="none" stroke-width="0" stroke-linejoin="round"/>
<path d="M613.5 186.7C614.2 186.2 615.7 185.4 617.2 185.7C618.8 186.0 621.4 187.7 622.8 188.6C624.2 189.4 625.6 190.2 625.7 191.0C625.8 191.9 624.6 193.0 623.4 193.5C622.2 194.0 619.8 194.2 618.5 193.9C617.1 193.6 616.3 192.5 615.4 191.7C614.4 190.8 613.2 189.4 612.9 188.6C612.6 187.7 612.8 187.2 613.5 186.7Z" fill="#f5a6c2" stroke="#707070" stroke-width="0.45" stroke-linejoin="round"/>
<path d="M615.4 194.8C616.3 194.2 618.3 193.8 619.7 193.9C621.1 194.0 623.1 194.6 624.0 195.4C625.0 196.1 625.6 197.1 625.7 198.5C625.8 199.8 625.2 202.2 624.7 203.4C624.1 204.7 623.2 205.8 622.2 205.9C621.1 206.0 619.6 205.0 618.5 204.1C617.3 203.1 616.1 201.5 615.4 200.3C614.6 199.2 614.1 198.2 614.1 197.2C614.1 196.3 614.4 195.3 615.4 194.8Z" fill="#a8dcc8" stroke="#707070" stroke-width="0.45" stroke-linejoin="round"/>
<path d="M643.3 197.2C643.9 197.1 645.0 198.8 645.8 199.7C646.5 200.6 647.6 201.8 648.0 202.8C648.4 203.9 648.2 204.9 648.2 205.9C648.2 207.0 648.3 208.0 648.0 209.0C647.7 210.1 647.1 211.8 646.4 212.1C645.7 212.4 644.5 211.4 643.9 210.9C643.3 210.4 642.6 210.1 642.7 209.0C642.8 208.0 644.6 206.1 644.5 204.7C644.4 203.2 642.2 201.6 642.0 200.3C641.8 199.1 642.7 197.3 643.3 197.2Z" fill="#a8dcc8" stroke="#707070" stroke-width="0.45" stroke-linejoin="round"/>
<path d="M606.7 213.3C607.4 212.5 609.2 211.0 610.4 210.8C611.6 210.6 613.3 211.4 614.1 212.1C614.9 212.7 616.1 213.8 615.4 214.5C614.6 215.3 611.3 216.2 609.8 216.4C608.2 216.6 606.6 216.3 606.1 215.8C605.5 215.3 606.0 214.1 606.7 213.3Z" fill="#a4d2f2" stroke="#707070" stroke-width="0.45" stroke-linejoin="round"/>
<path d="M605.4 217.0C606.4 216.5 608.7 216.8 610.4 216.4C612.1 216.0 614.3 214.5 615.4 214.5C616.5 214.5 617.0 215.5 617.0 216.4C617.0 217.3 616.4 219.1 615.4 220.1C614.4 221.2 612.5 222.3 611.0 222.6C609.6 222.9 607.8 222.5 606.7 222.0C605.6 221.5 604.8 220.3 604.6 219.5C604.4 218.7 604.5 217.5 605.4 217.0Z" fill="#f5a6c2" stroke="#707070" stroke-width="0.45" stroke-linejoin="round"/>
<path d="M637.7 212.1C638.5 211.3 640.3 210.7 641.4 210.8C642.6 210.9 643.8 211.8 644.5 212.7C645.2 213.6 645.6 215.3 645.5 216.4C645.4 217.5 644.9 219.3 643.9 219.5C642.9 219.7 640.8 218.4 639.6 217.6C638.3 216.9 636.8 216.1 636.5 215.2C636.1 214.2 636.9 212.8 637.7 212.1Z" fill="#a4d2f2" stroke="#707070" stroke-width="0.45" stroke-linejoin="round"/>
<path d="M635.8 215.8C636.5 215.8 638.1 217.6 639.6 218.3C641.0 218.9 643.8 219.2 644.5 219.9C645.2 220.6 644.5 221.9 643.9 222.6C643.3 223.3 641.8 224.1 640.8 223.8C639.8 223.6 638.5 222.3 637.7 221.4C636.9 220.4 636.1 219.2 635.8 218.3C635.5 217.3 635.2 215.8 635.8 215.8Z" fill="#f5a6c2" stroke="#707070" stroke-width="0.45" stroke-linejoin="round"/>
<path d="M373.7 177.0C374.0 175.8 374.6 174.1 375.6 172.0C376.6 169.9 378.1 167.1 379.9 164.6C381.6 162.1 384.0 159.4 386.1 157.2C388.2 155.0 390.1 153.1 392.3 151.6C394.5 150.1 396.1 148.7 399.2 148.4C402.3 148.1 406.9 148.9 410.9 149.7C414.9 150.5 419.4 151.8 423.3 153.4C427.2 155.0 431.4 157.1 434.5 159.0C437.6 160.9 440.0 162.6 442.0 164.6C444.0 166.6 445.2 168.7 446.3 170.8C447.4 172.9 448.4 175.5 448.8 177.0C449.2 178.5 449.1 178.6 448.8 179.8C448.5 181.0 448.0 183.0 446.9 184.4C445.8 185.8 444.1 187.1 442.0 188.1C439.9 189.1 436.8 190.2 434.5 190.6C432.2 191.0 429.5 190.0 428.0 190.4C426.5 190.8 426.1 191.9 425.4 193.1C424.7 194.3 424.8 196.2 424.0 197.4C423.2 198.6 422.2 199.9 420.9 200.5C419.5 201.1 417.8 201.4 415.9 201.2C414.0 201.0 412.2 200.3 409.7 199.5C407.2 198.7 403.9 197.4 401.0 196.2C398.1 195.0 395.0 193.8 392.3 192.5C389.6 191.2 387.2 189.7 384.9 188.7C382.6 187.7 380.3 187.3 378.7 186.3C377.1 185.3 375.9 183.6 375.0 182.5C374.1 181.4 373.8 180.4 373.6 179.5C373.4 178.6 373.4 178.2 373.7 177.0Z" fill="none" stroke="#000" stroke-width="1.15" stroke-linejoin="round"/>
<path d="M468.6 177.0C469.1 174.8 470.1 173.1 471.7 170.8C473.2 168.5 475.2 165.7 477.9 163.4C480.6 161.0 484.1 158.6 487.8 156.5C491.5 154.5 496.1 152.3 500.2 151.0C504.4 149.7 509.1 148.7 512.6 148.7C516.1 148.7 518.4 149.6 521.3 151.0C524.2 152.4 527.3 154.7 530.0 157.2C532.7 159.6 535.4 163.2 537.4 165.9C539.5 168.5 541.2 171.3 542.4 173.3C543.6 175.3 544.3 176.4 544.9 178.0C545.5 179.6 546.3 181.3 545.9 182.7C545.5 184.1 544.2 185.4 542.4 186.4C540.6 187.4 537.9 188.2 535.0 188.9C532.1 189.6 528.1 190.1 525.0 190.7C521.9 191.4 519.0 191.7 516.3 192.6C513.7 193.5 511.4 195.2 508.9 196.3C506.4 197.5 503.4 198.8 501.5 199.4C499.5 200.1 498.4 200.5 497.1 200.1C495.9 199.6 494.8 197.9 494.0 197.0C493.2 196.0 493.2 194.9 492.2 194.5C491.1 194.1 489.6 194.4 487.8 194.5C486.1 194.5 483.7 195.1 481.6 194.8C479.5 194.6 477.1 194.0 475.4 193.2C473.8 192.4 472.8 191.7 471.7 190.1C470.5 188.6 469.1 186.1 468.6 183.9C468.1 181.7 468.1 179.2 468.6 177.0Z" fill="none" stroke="#000" stroke-width="1.15" stroke-linejoin="round"/>
<path d="M377.8 227.7C379.3 226.1 382.1 222.9 384.9 220.6C387.7 218.3 391.1 215.8 394.8 213.8C398.5 211.8 403.1 209.9 407.2 208.8C411.4 207.7 416.5 207.2 419.6 207.2C422.7 207.2 423.6 207.6 425.8 208.8C428.1 210.0 431.0 212.2 433.3 214.4C435.6 216.6 437.4 219.4 439.5 221.9C441.5 224.3 444.3 227.5 445.6 229.3C446.9 231.1 446.8 231.3 447.3 232.6C447.8 233.9 448.3 235.8 448.5 237.3C448.7 238.8 449.0 240.3 448.5 241.6C448.1 243.0 447.2 244.3 445.7 245.4C444.2 246.4 441.8 247.0 439.5 247.9C437.2 248.7 434.9 249.2 432.0 250.3C429.1 251.5 425.2 253.3 422.1 254.7C419.0 256.0 416.1 257.7 413.4 258.4C410.7 259.1 408.0 259.2 406.0 259.0C403.9 258.8 402.4 258.2 401.0 257.2C399.7 256.1 399.2 254.3 397.9 252.8C396.7 251.4 395.3 249.5 393.6 248.5C391.8 247.4 389.6 247.2 387.4 246.6C385.1 246.0 381.9 245.6 379.9 244.7C378.0 243.9 376.6 243.0 375.6 241.6C374.5 240.3 373.9 238.1 373.7 236.7C373.5 235.2 374.2 234.1 374.5 233.0C374.8 231.9 375.2 231.1 375.8 230.2C376.4 229.3 376.3 229.3 377.8 227.7Z" fill="none" stroke="#000" stroke-width="1.15" stroke-linejoin="round"/>
<path d="M474.2 227.6C475.8 225.2 478.1 221.5 480.4 218.9C482.6 216.3 485.1 213.7 487.8 212.1C490.5 210.5 493.2 209.5 496.5 209.2C499.8 208.9 503.9 209.4 507.7 210.2C511.4 211.0 515.3 212.5 518.8 213.9C522.3 215.4 525.7 216.9 528.8 218.9C531.9 220.9 535.0 223.2 537.4 225.7C539.9 228.2 542.2 231.1 543.6 233.8C545.1 236.4 545.9 239.3 545.9 241.6C545.9 244.0 544.8 246.2 543.6 247.9C542.4 249.5 541.0 250.7 538.7 251.6C536.4 252.4 532.9 252.4 530.0 252.8C527.1 253.3 523.8 253.4 521.3 254.3C518.8 255.2 517.4 257.6 515.1 258.4C512.8 259.2 510.1 259.4 507.7 259.0C505.2 258.6 502.9 257.1 500.2 255.9C497.5 254.8 494.6 253.0 491.5 252.2C488.4 251.4 484.7 251.6 481.6 251.0C478.5 250.3 475.1 249.6 472.9 248.5C470.8 247.3 469.4 245.7 468.6 244.1C467.8 242.6 467.7 241.0 468.0 239.2C468.3 237.3 469.4 234.9 470.4 233.0C471.5 231.0 472.5 229.9 474.2 227.6Z" fill="none" stroke="#000" stroke-width="1.15" stroke-linejoin="round"/>
</svg>
</body></html>
